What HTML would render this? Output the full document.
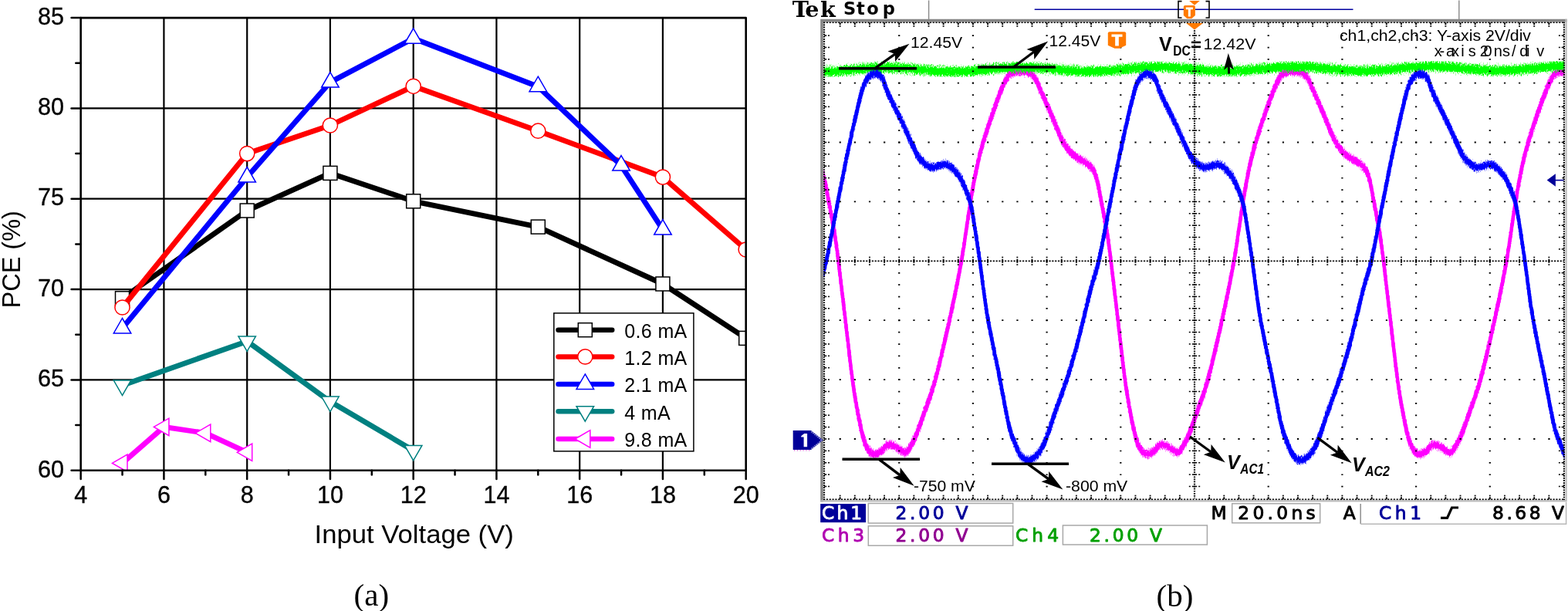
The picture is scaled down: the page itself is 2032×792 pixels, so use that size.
<!DOCTYPE html>
<html><head><meta charset="utf-8"><title>PCE and waveforms</title>
<style>html,body{margin:0;padding:0;background:#fff;}svg{display:block;}</style></head>
<body>
<svg width="2032" height="792" viewBox="0 0 2032 792">
<rect width="2032" height="792" fill="#fff"/>
<g stroke="#000" stroke-width="2.2"><line x1="212.4" y1="23.1" x2="212.4" y2="609.8"/><line x1="320.2" y1="23.1" x2="320.2" y2="609.8"/><line x1="427.9" y1="23.1" x2="427.9" y2="609.8"/><line x1="535.7" y1="23.1" x2="535.7" y2="609.8"/><line x1="643.4" y1="23.1" x2="643.4" y2="609.8"/><line x1="751.2" y1="23.1" x2="751.2" y2="609.8"/><line x1="858.9" y1="23.1" x2="858.9" y2="609.8"/><line x1="104.7" y1="492.4" x2="966.7" y2="492.4"/><line x1="104.7" y1="375.1" x2="966.7" y2="375.1"/><line x1="104.7" y1="257.7" x2="966.7" y2="257.7"/><line x1="104.7" y1="140.4" x2="966.7" y2="140.4"/></g>
<clipPath id="pc"><rect x="104.66" y="23.08" width="862.02" height="586.67"/></clipPath><g clip-path="url(#pc)">
<polyline points="158.5,386.8 320.2,273.0 427.9,224.4 535.7,260.8 697.3,294.1 858.9,368.0 966.7,438.4" fill="none" stroke="#000000" stroke-width="6.9" stroke-linejoin="round" stroke-linecap="round"/>
<rect x="149.5" y="377.8" width="18" height="18" fill="#fff" stroke="#000000" stroke-width="1.5"/>
<rect x="311.2" y="264.0" width="18" height="18" fill="#fff" stroke="#000000" stroke-width="1.5"/>
<rect x="418.9" y="215.4" width="18" height="18" fill="#fff" stroke="#000000" stroke-width="1.5"/>
<rect x="526.7" y="251.8" width="18" height="18" fill="#fff" stroke="#000000" stroke-width="1.5"/>
<rect x="688.3" y="285.1" width="18" height="18" fill="#fff" stroke="#000000" stroke-width="1.5"/>
<rect x="849.9" y="359.0" width="18" height="18" fill="#fff" stroke="#000000" stroke-width="1.5"/>
<rect x="957.7" y="429.4" width="18" height="18" fill="#fff" stroke="#000000" stroke-width="1.5"/>
<polyline points="158.5,398.5 320.2,199.1 427.9,162.5 535.7,111.8 697.3,169.7 858.9,229.6 966.7,323.5" fill="none" stroke="#ff0000" stroke-width="6.9" stroke-linejoin="round" stroke-linecap="round"/>
<circle cx="158.5" cy="398.5" r="9.6" fill="#fff" stroke="#ff0000" stroke-width="1.5"/>
<circle cx="320.2" cy="199.1" r="9.6" fill="#fff" stroke="#ff0000" stroke-width="1.5"/>
<circle cx="427.9" cy="162.5" r="9.6" fill="#fff" stroke="#ff0000" stroke-width="1.5"/>
<circle cx="535.7" cy="111.8" r="9.6" fill="#fff" stroke="#ff0000" stroke-width="1.5"/>
<circle cx="697.3" cy="169.7" r="9.6" fill="#fff" stroke="#ff0000" stroke-width="1.5"/>
<circle cx="858.9" cy="229.6" r="9.6" fill="#fff" stroke="#ff0000" stroke-width="1.5"/>
<circle cx="966.7" cy="323.5" r="9.6" fill="#fff" stroke="#ff0000" stroke-width="1.5"/>
<polyline points="158.5,425.5 320.2,229.6 427.9,106.6 535.7,49.8 697.3,112.2 805.0,214.6 858.9,297.6" fill="none" stroke="#0000ff" stroke-width="6.9" stroke-linejoin="round" stroke-linecap="round"/>
<polygon points="158.5,412.5 169.8,432.0 147.3,432.0" fill="#fff" stroke="#0000ff" stroke-width="1.5" stroke-linejoin="miter"/>
<polygon points="320.2,216.6 331.4,236.1 308.9,236.1" fill="#fff" stroke="#0000ff" stroke-width="1.5" stroke-linejoin="miter"/>
<polygon points="427.9,93.6 439.2,113.1 416.7,113.1" fill="#fff" stroke="#0000ff" stroke-width="1.5" stroke-linejoin="miter"/>
<polygon points="535.7,36.8 546.9,56.3 524.4,56.3" fill="#fff" stroke="#0000ff" stroke-width="1.5" stroke-linejoin="miter"/>
<polygon points="697.3,99.2 708.6,118.7 686.0,118.7" fill="#fff" stroke="#0000ff" stroke-width="1.5" stroke-linejoin="miter"/>
<polygon points="805.0,201.6 816.3,221.1 793.8,221.1" fill="#fff" stroke="#0000ff" stroke-width="1.5" stroke-linejoin="miter"/>
<polygon points="858.9,284.6 870.2,304.1 847.7,304.1" fill="#fff" stroke="#0000ff" stroke-width="1.5" stroke-linejoin="miter"/>
<polyline points="158.5,499.5 320.2,442.4 427.9,520.6 535.7,583.9" fill="none" stroke="#008080" stroke-width="6.9" stroke-linejoin="round" stroke-linecap="round"/>
<polygon points="158.5,512.5 169.8,493.0 147.3,493.0" fill="#fff" stroke="#008080" stroke-width="1.5" stroke-linejoin="miter"/>
<polygon points="320.2,455.4 331.4,435.9 308.9,435.9" fill="#fff" stroke="#008080" stroke-width="1.5" stroke-linejoin="miter"/>
<polygon points="427.9,533.6 439.2,514.1 416.7,514.1" fill="#fff" stroke="#008080" stroke-width="1.5" stroke-linejoin="miter"/>
<polygon points="535.7,596.9 546.9,577.4 524.4,577.4" fill="#fff" stroke="#008080" stroke-width="1.5" stroke-linejoin="miter"/>
<polyline points="158.5,600.4 212.4,553.4 266.3,561.4 320.2,586.3" fill="none" stroke="#ff00ff" stroke-width="6.9" stroke-linejoin="round" stroke-linecap="round"/>
<polygon points="145.5,600.4 165.0,589.1 165.0,611.6" fill="#fff" stroke="#ff00ff" stroke-width="1.5" stroke-linejoin="miter"/>
<polygon points="199.4,553.4 218.9,542.2 218.9,564.7" fill="#fff" stroke="#ff00ff" stroke-width="1.5" stroke-linejoin="miter"/>
<polygon points="253.3,561.4 272.8,550.1 272.8,572.7" fill="#fff" stroke="#ff00ff" stroke-width="1.5" stroke-linejoin="miter"/>
<polygon points="307.2,586.3 326.7,575.0 326.7,597.5" fill="#fff" stroke="#ff00ff" stroke-width="1.5" stroke-linejoin="miter"/>
</g>
<g stroke="#000" stroke-width="2.5" stroke-linecap="round"><line x1="104.66" y1="609.75" x2="104.66" y2="620.95"/><line x1="158.54" y1="609.75" x2="158.54" y2="615.55"/><line x1="212.41" y1="609.75" x2="212.41" y2="620.95"/><line x1="266.29" y1="609.75" x2="266.29" y2="615.55"/><line x1="320.16" y1="609.75" x2="320.16" y2="620.95"/><line x1="374.04" y1="609.75" x2="374.04" y2="615.55"/><line x1="427.92" y1="609.75" x2="427.92" y2="620.95"/><line x1="481.79" y1="609.75" x2="481.79" y2="615.55"/><line x1="535.67" y1="609.75" x2="535.67" y2="620.95"/><line x1="589.54" y1="609.75" x2="589.54" y2="615.55"/><line x1="643.42" y1="609.75" x2="643.42" y2="620.95"/><line x1="697.30" y1="609.75" x2="697.30" y2="615.55"/><line x1="751.17" y1="609.75" x2="751.17" y2="620.95"/><line x1="805.05" y1="609.75" x2="805.05" y2="615.55"/><line x1="858.92" y1="609.75" x2="858.92" y2="620.95"/><line x1="912.80" y1="609.75" x2="912.80" y2="615.55"/><line x1="966.68" y1="609.75" x2="966.68" y2="620.95"/><line x1="92.56" y1="609.75" x2="104.66" y2="609.75"/><line x1="98.26" y1="551.08" x2="104.66" y2="551.08"/><line x1="92.56" y1="492.42" x2="104.66" y2="492.42"/><line x1="98.26" y1="433.75" x2="104.66" y2="433.75"/><line x1="92.56" y1="375.08" x2="104.66" y2="375.08"/><line x1="98.26" y1="316.41" x2="104.66" y2="316.41"/><line x1="92.56" y1="257.75" x2="104.66" y2="257.75"/><line x1="98.26" y1="199.08" x2="104.66" y2="199.08"/><line x1="92.56" y1="140.41" x2="104.66" y2="140.41"/><line x1="98.26" y1="81.74" x2="104.66" y2="81.74"/><line x1="92.56" y1="23.08" x2="104.66" y2="23.08"/></g>
<rect x="104.66" y="23.08" width="862.02" height="586.67" fill="none" stroke="#000" stroke-width="2.6" stroke-linejoin="round"/>
<g font-family="Liberation Sans, Arial, sans-serif" font-size="30.5" fill="#000" stroke="#000" stroke-width="0.35"><text x="83.0" y="618.5" text-anchor="end">60</text><text x="83.0" y="501.1" text-anchor="end">65</text><text x="83.0" y="383.8" text-anchor="end">70</text><text x="83.0" y="266.4" text-anchor="end">75</text><text x="83.0" y="149.1" text-anchor="end">80</text><text x="83.0" y="31.8" text-anchor="end">85</text><text x="104.7" y="652" text-anchor="middle">4</text><text x="212.4" y="652" text-anchor="middle">6</text><text x="320.2" y="652" text-anchor="middle">8</text><text x="427.9" y="652" text-anchor="middle">10</text><text x="535.7" y="652" text-anchor="middle">12</text><text x="643.4" y="652" text-anchor="middle">14</text><text x="751.2" y="652" text-anchor="middle">16</text><text x="858.9" y="652" text-anchor="middle">18</text><text x="966.7" y="652" text-anchor="middle">20</text></g>
<text font-family="Liberation Sans, Arial, sans-serif" font-size="33" x="536.7" y="704.2" text-anchor="middle" textLength="258.2" lengthAdjust="spacingAndGlyphs">Input Voltage (V)</text>
<text font-family="Liberation Sans, Arial, sans-serif" font-size="33" transform="translate(25.7,336.3) rotate(-90)" text-anchor="middle" textLength="126.2" lengthAdjust="spacingAndGlyphs">PCE (%)</text>
<rect x="717.8" y="405.9" width="181.1" height="179" fill="#fff" stroke="#000" stroke-width="1.5"/>
<line x1="723.5" y1="427.7" x2="793.2" y2="427.7" stroke="#000000" stroke-width="6.5" stroke-linecap="round"/>
<rect x="749.3" y="418.7" width="18" height="18" fill="#fff" stroke="#000000" stroke-width="1.5"/>
<text font-family="Liberation Sans, Arial, sans-serif" font-size="25" letter-spacing="0.35" x="809.3" y="438.0" fill="#000">0.6 mA</text>
<line x1="723.5" y1="462.4" x2="793.2" y2="462.4" stroke="#ff0000" stroke-width="6.5" stroke-linecap="round"/>
<circle cx="758.3" cy="462.4" r="9.6" fill="#fff" stroke="#ff0000" stroke-width="1.5"/>
<text font-family="Liberation Sans, Arial, sans-serif" font-size="25" letter-spacing="0.35" x="809.3" y="472.7" fill="#000">1.2 mA</text>
<line x1="723.5" y1="497.9" x2="793.2" y2="497.9" stroke="#0000ff" stroke-width="6.5" stroke-linecap="round"/>
<polygon points="758.3,484.9 769.6,504.4 747.0,504.4" fill="#fff" stroke="#0000ff" stroke-width="1.5" stroke-linejoin="miter"/>
<text font-family="Liberation Sans, Arial, sans-serif" font-size="25" letter-spacing="0.35" x="809.3" y="508.2" fill="#000">2.1 mA</text>
<line x1="723.5" y1="533.2" x2="793.2" y2="533.2" stroke="#008080" stroke-width="6.5" stroke-linecap="round"/>
<polygon points="758.3,546.2 769.6,526.7 747.0,526.7" fill="#fff" stroke="#008080" stroke-width="1.5" stroke-linejoin="miter"/>
<text font-family="Liberation Sans, Arial, sans-serif" font-size="25" letter-spacing="0.35" x="809.3" y="543.5" fill="#000">4 mA</text>
<line x1="723.5" y1="569.0" x2="793.2" y2="569.0" stroke="#ff00ff" stroke-width="6.5" stroke-linecap="round"/>
<polygon points="745.3,569.0 764.8,557.7 764.8,580.3" fill="#fff" stroke="#ff00ff" stroke-width="1.5" stroke-linejoin="miter"/>
<text font-family="Liberation Sans, Arial, sans-serif" font-size="25" letter-spacing="0.35" x="809.3" y="579.3" fill="#000">9.8 mA</text>
<text font-family="Liberation Serif, Times New Roman, serif" font-size="41" x="481.3" y="785.4" text-anchor="middle">(a)</text>
<text font-family="Liberation Serif, Times New Roman, serif" font-size="41" x="1522.5" y="785.9" text-anchor="middle">(b)</text>
<filter id="rough" x="-2%" y="-10%" width="104%" height="120%" color-interpolation-filters="sRGB"><feTurbulence type="fractalNoise" baseFrequency="0.8 0.3" numOctaves="2" seed="7" result="n"/><feColorMatrix in="n" type="matrix" values="0 0 0 0 0.5  1.6 0 0 0 -0.3  0 0 0 0 0  0 0 0 0 1" result="m"/><feDisplacementMap in="SourceGraphic" in2="m" scale="7" xChannelSelector="R" yChannelSelector="G"/></filter>
<filter id="rough2" x="-2%" y="-2%" width="104%" height="104%" color-interpolation-filters="sRGB"><feTurbulence type="fractalNoise" baseFrequency="0.8 0.3" numOctaves="2" seed="11" result="n"/><feColorMatrix in="n" type="matrix" values="0 0 0 0 0.5  1.6 0 0 0 -0.3  0 0 0 0 0  0 0 0 0 1" result="m"/><feDisplacementMap in="SourceGraphic" in2="m" scale="4.5" xChannelSelector="R" yChannelSelector="G"/></filter>
<clipPath id="gc"><rect x="1067.3" y="29" width="960.2" height="618.5"/></clipPath>
<g clip-path="url(#gc)"><g filter="url(#rough2)">
<path d="M1011.1,153.0C1013.1,157.8 1019.4,174.3 1023.1,181.5C1026.8,188.7 1030.1,192.4 1033.1,196.0C1036.1,199.6 1038.3,200.9 1041.1,203.0C1043.9,205.1 1047.3,206.7 1050.1,208.5C1052.9,210.3 1055.8,211.9 1058.1,214.0C1060.4,216.1 1062.3,217.3 1064.1,221.0C1065.9,224.7 1067.4,229.2 1069.1,236.0C1070.8,242.8 1072.0,250.9 1074.1,262.0C1076.2,273.1 1079.5,289.8 1081.6,302.6C1083.7,315.4 1084.3,320.9 1086.6,339.0C1088.8,357.1 1092.1,385.6 1095.1,411.0C1098.1,436.4 1101.7,470.0 1104.6,491.5C1107.5,513.0 1110.0,526.6 1112.6,540.0C1115.2,553.4 1117.8,564.7 1120.1,572.0C1122.3,579.3 1124.1,581.2 1126.1,584.0C1128.1,586.8 1129.8,588.2 1132.3,588.5C1134.8,588.8 1138.2,587.5 1141.3,585.5C1144.4,583.5 1147.5,577.5 1150.8,576.5C1154.1,575.5 1157.6,577.8 1161.3,579.5C1165.0,581.2 1169.6,586.8 1172.8,586.5C1176.0,586.2 1177.9,581.8 1180.3,578.0C1182.7,574.2 1184.2,571.7 1187.3,564.0C1190.4,556.3 1194.6,544.1 1198.8,532.0C1203.0,519.9 1206.9,511.7 1212.3,491.5C1217.7,471.3 1225.7,436.4 1231.3,411.0C1236.9,385.6 1241.4,363.8 1245.8,339.0C1250.2,314.2 1254.2,282.7 1257.6,262.0C1261.0,241.3 1263.4,228.4 1266.3,215.0C1269.2,201.6 1271.8,192.3 1275.0,181.5C1278.2,170.7 1281.8,160.1 1285.3,150.0C1288.8,139.9 1292.8,128.7 1295.8,121.0C1298.8,113.3 1301.0,108.2 1303.3,104.0C1305.5,99.8 1306.1,97.4 1309.3,95.5C1312.5,93.6 1318.0,92.6 1322.3,92.5C1326.6,92.4 1332.0,93.2 1335.3,95.0C1338.6,96.8 1339.8,98.7 1342.3,103.0C1344.8,107.3 1346.6,112.7 1350.3,121.0C1354.0,129.3 1360.0,142.9 1364.3,153.0C1368.6,163.1 1372.6,174.3 1376.3,181.5C1380.0,188.7 1383.3,192.4 1386.3,196.0C1389.3,199.6 1391.5,200.9 1394.3,203.0C1397.1,205.1 1400.5,206.7 1403.3,208.5C1406.1,210.3 1409.0,211.9 1411.3,214.0C1413.6,216.1 1415.5,217.3 1417.3,221.0C1419.1,224.7 1420.6,229.2 1422.3,236.0C1424.0,242.8 1425.2,250.9 1427.3,262.0C1429.4,273.1 1432.7,289.8 1434.8,302.6C1436.9,315.4 1437.5,320.9 1439.8,339.0C1442.0,357.1 1445.3,385.6 1448.3,411.0C1451.3,436.4 1454.9,470.0 1457.8,491.5C1460.7,513.0 1463.2,526.6 1465.8,540.0C1468.4,553.4 1471.0,564.7 1473.3,572.0C1475.5,579.3 1477.3,581.2 1479.3,584.0C1481.3,586.8 1483.0,588.2 1485.5,588.5C1488.0,588.8 1491.4,587.5 1494.5,585.5C1497.6,583.5 1500.7,577.5 1504.0,576.5C1507.3,575.5 1510.8,577.8 1514.5,579.5C1518.2,581.2 1522.8,586.8 1526.0,586.5C1529.2,586.2 1531.1,581.8 1533.5,578.0C1535.9,574.2 1537.4,571.7 1540.5,564.0C1543.6,556.3 1547.8,544.1 1552.0,532.0C1556.2,519.9 1560.1,511.7 1565.5,491.5C1570.9,471.3 1578.9,436.4 1584.5,411.0C1590.1,385.6 1594.6,363.8 1599.0,339.0C1603.4,314.2 1607.4,282.7 1610.8,262.0C1614.2,241.3 1616.6,228.4 1619.5,215.0C1622.4,201.6 1625.0,192.3 1628.2,181.5C1631.4,170.7 1635.0,160.1 1638.5,150.0C1642.0,139.9 1646.0,128.7 1649.0,121.0C1652.0,113.3 1654.2,108.2 1656.5,104.0C1658.8,99.8 1659.3,97.4 1662.5,95.5C1665.7,93.6 1671.2,92.6 1675.5,92.5C1679.8,92.4 1685.2,93.2 1688.5,95.0C1691.8,96.8 1693.0,98.7 1695.5,103.0C1698.0,107.3 1699.8,112.7 1703.5,121.0C1707.2,129.3 1713.2,142.9 1717.5,153.0C1721.8,163.1 1725.8,174.3 1729.5,181.5C1733.2,188.7 1736.5,192.4 1739.5,196.0C1742.5,199.6 1744.7,200.9 1747.5,203.0C1750.3,205.1 1753.7,206.7 1756.5,208.5C1759.3,210.3 1762.2,211.9 1764.5,214.0C1766.8,216.1 1768.7,217.3 1770.5,221.0C1772.3,224.7 1773.8,229.2 1775.5,236.0C1777.2,242.8 1778.4,250.9 1780.5,262.0C1782.6,273.1 1785.9,289.8 1788.0,302.6C1790.1,315.4 1790.8,320.9 1793.0,339.0C1795.2,357.1 1798.5,385.6 1801.5,411.0C1804.5,436.4 1808.1,470.0 1811.0,491.5C1813.9,513.0 1816.4,526.6 1819.0,540.0C1821.6,553.4 1824.2,564.7 1826.5,572.0C1828.8,579.3 1830.5,581.2 1832.5,584.0C1834.5,586.8 1836.2,588.2 1838.7,588.5C1841.2,588.8 1844.6,587.5 1847.7,585.5C1850.8,583.5 1853.9,577.5 1857.2,576.5C1860.5,575.5 1864.0,577.8 1867.7,579.5C1871.4,581.2 1876.0,586.8 1879.2,586.5C1882.4,586.2 1884.3,581.8 1886.7,578.0C1889.1,574.2 1890.6,571.7 1893.7,564.0C1896.8,556.3 1901.0,544.1 1905.2,532.0C1909.4,519.9 1913.3,511.7 1918.7,491.5C1924.1,471.3 1932.1,436.4 1937.7,411.0C1943.3,385.6 1947.8,363.8 1952.2,339.0C1956.6,314.2 1960.6,282.7 1964.0,262.0C1967.4,241.3 1969.8,228.4 1972.7,215.0C1975.6,201.6 1978.2,192.3 1981.4,181.5C1984.6,170.7 1988.2,160.1 1991.7,150.0C1995.2,139.9 1999.2,128.7 2002.2,121.0C2005.2,113.3 2007.4,108.2 2009.7,104.0C2011.9,99.8 2012.5,97.4 2015.7,95.5C2018.9,93.6 2024.4,92.6 2028.7,92.5C2033.0,92.4 2038.4,93.2 2041.7,95.0C2045.0,96.8 2046.2,98.7 2048.7,103.0C2051.2,107.3 2053.0,112.7 2056.7,121.0C2060.4,129.3 2066.4,142.9 2070.7,153.0C2075.0,163.1 2080.7,176.8 2082.7,181.5" transform="translate(0,-4.0)" fill="none" stroke="#ff00ff" stroke-width="3.8" stroke-opacity="0.4" stroke-linejoin="round"/><path d="M1011.1,153.0C1013.1,157.8 1019.4,174.3 1023.1,181.5C1026.8,188.7 1030.1,192.4 1033.1,196.0C1036.1,199.6 1038.3,200.9 1041.1,203.0C1043.9,205.1 1047.3,206.7 1050.1,208.5C1052.9,210.3 1055.8,211.9 1058.1,214.0C1060.4,216.1 1062.3,217.3 1064.1,221.0C1065.9,224.7 1067.4,229.2 1069.1,236.0C1070.8,242.8 1072.0,250.9 1074.1,262.0C1076.2,273.1 1079.5,289.8 1081.6,302.6C1083.7,315.4 1084.3,320.9 1086.6,339.0C1088.8,357.1 1092.1,385.6 1095.1,411.0C1098.1,436.4 1101.7,470.0 1104.6,491.5C1107.5,513.0 1110.0,526.6 1112.6,540.0C1115.2,553.4 1117.8,564.7 1120.1,572.0C1122.3,579.3 1124.1,581.2 1126.1,584.0C1128.1,586.8 1129.8,588.2 1132.3,588.5C1134.8,588.8 1138.2,587.5 1141.3,585.5C1144.4,583.5 1147.5,577.5 1150.8,576.5C1154.1,575.5 1157.6,577.8 1161.3,579.5C1165.0,581.2 1169.6,586.8 1172.8,586.5C1176.0,586.2 1177.9,581.8 1180.3,578.0C1182.7,574.2 1184.2,571.7 1187.3,564.0C1190.4,556.3 1194.6,544.1 1198.8,532.0C1203.0,519.9 1206.9,511.7 1212.3,491.5C1217.7,471.3 1225.7,436.4 1231.3,411.0C1236.9,385.6 1241.4,363.8 1245.8,339.0C1250.2,314.2 1254.2,282.7 1257.6,262.0C1261.0,241.3 1263.4,228.4 1266.3,215.0C1269.2,201.6 1271.8,192.3 1275.0,181.5C1278.2,170.7 1281.8,160.1 1285.3,150.0C1288.8,139.9 1292.8,128.7 1295.8,121.0C1298.8,113.3 1301.0,108.2 1303.3,104.0C1305.5,99.8 1306.1,97.4 1309.3,95.5C1312.5,93.6 1318.0,92.6 1322.3,92.5C1326.6,92.4 1332.0,93.2 1335.3,95.0C1338.6,96.8 1339.8,98.7 1342.3,103.0C1344.8,107.3 1346.6,112.7 1350.3,121.0C1354.0,129.3 1360.0,142.9 1364.3,153.0C1368.6,163.1 1372.6,174.3 1376.3,181.5C1380.0,188.7 1383.3,192.4 1386.3,196.0C1389.3,199.6 1391.5,200.9 1394.3,203.0C1397.1,205.1 1400.5,206.7 1403.3,208.5C1406.1,210.3 1409.0,211.9 1411.3,214.0C1413.6,216.1 1415.5,217.3 1417.3,221.0C1419.1,224.7 1420.6,229.2 1422.3,236.0C1424.0,242.8 1425.2,250.9 1427.3,262.0C1429.4,273.1 1432.7,289.8 1434.8,302.6C1436.9,315.4 1437.5,320.9 1439.8,339.0C1442.0,357.1 1445.3,385.6 1448.3,411.0C1451.3,436.4 1454.9,470.0 1457.8,491.5C1460.7,513.0 1463.2,526.6 1465.8,540.0C1468.4,553.4 1471.0,564.7 1473.3,572.0C1475.5,579.3 1477.3,581.2 1479.3,584.0C1481.3,586.8 1483.0,588.2 1485.5,588.5C1488.0,588.8 1491.4,587.5 1494.5,585.5C1497.6,583.5 1500.7,577.5 1504.0,576.5C1507.3,575.5 1510.8,577.8 1514.5,579.5C1518.2,581.2 1522.8,586.8 1526.0,586.5C1529.2,586.2 1531.1,581.8 1533.5,578.0C1535.9,574.2 1537.4,571.7 1540.5,564.0C1543.6,556.3 1547.8,544.1 1552.0,532.0C1556.2,519.9 1560.1,511.7 1565.5,491.5C1570.9,471.3 1578.9,436.4 1584.5,411.0C1590.1,385.6 1594.6,363.8 1599.0,339.0C1603.4,314.2 1607.4,282.7 1610.8,262.0C1614.2,241.3 1616.6,228.4 1619.5,215.0C1622.4,201.6 1625.0,192.3 1628.2,181.5C1631.4,170.7 1635.0,160.1 1638.5,150.0C1642.0,139.9 1646.0,128.7 1649.0,121.0C1652.0,113.3 1654.2,108.2 1656.5,104.0C1658.8,99.8 1659.3,97.4 1662.5,95.5C1665.7,93.6 1671.2,92.6 1675.5,92.5C1679.8,92.4 1685.2,93.2 1688.5,95.0C1691.8,96.8 1693.0,98.7 1695.5,103.0C1698.0,107.3 1699.8,112.7 1703.5,121.0C1707.2,129.3 1713.2,142.9 1717.5,153.0C1721.8,163.1 1725.8,174.3 1729.5,181.5C1733.2,188.7 1736.5,192.4 1739.5,196.0C1742.5,199.6 1744.7,200.9 1747.5,203.0C1750.3,205.1 1753.7,206.7 1756.5,208.5C1759.3,210.3 1762.2,211.9 1764.5,214.0C1766.8,216.1 1768.7,217.3 1770.5,221.0C1772.3,224.7 1773.8,229.2 1775.5,236.0C1777.2,242.8 1778.4,250.9 1780.5,262.0C1782.6,273.1 1785.9,289.8 1788.0,302.6C1790.1,315.4 1790.8,320.9 1793.0,339.0C1795.2,357.1 1798.5,385.6 1801.5,411.0C1804.5,436.4 1808.1,470.0 1811.0,491.5C1813.9,513.0 1816.4,526.6 1819.0,540.0C1821.6,553.4 1824.2,564.7 1826.5,572.0C1828.8,579.3 1830.5,581.2 1832.5,584.0C1834.5,586.8 1836.2,588.2 1838.7,588.5C1841.2,588.8 1844.6,587.5 1847.7,585.5C1850.8,583.5 1853.9,577.5 1857.2,576.5C1860.5,575.5 1864.0,577.8 1867.7,579.5C1871.4,581.2 1876.0,586.8 1879.2,586.5C1882.4,586.2 1884.3,581.8 1886.7,578.0C1889.1,574.2 1890.6,571.7 1893.7,564.0C1896.8,556.3 1901.0,544.1 1905.2,532.0C1909.4,519.9 1913.3,511.7 1918.7,491.5C1924.1,471.3 1932.1,436.4 1937.7,411.0C1943.3,385.6 1947.8,363.8 1952.2,339.0C1956.6,314.2 1960.6,282.7 1964.0,262.0C1967.4,241.3 1969.8,228.4 1972.7,215.0C1975.6,201.6 1978.2,192.3 1981.4,181.5C1984.6,170.7 1988.2,160.1 1991.7,150.0C1995.2,139.9 1999.2,128.7 2002.2,121.0C2005.2,113.3 2007.4,108.2 2009.7,104.0C2011.9,99.8 2012.5,97.4 2015.7,95.5C2018.9,93.6 2024.4,92.6 2028.7,92.5C2033.0,92.4 2038.4,93.2 2041.7,95.0C2045.0,96.8 2046.2,98.7 2048.7,103.0C2051.2,107.3 2053.0,112.7 2056.7,121.0C2060.4,129.3 2066.4,142.9 2070.7,153.0C2075.0,163.1 2080.7,176.8 2082.7,181.5" transform="translate(0,-2.3)" fill="none" stroke="#ff00ff" stroke-width="3.8" stroke-opacity="1.0" stroke-linejoin="round"/><path d="M1011.1,153.0C1013.1,157.8 1019.4,174.3 1023.1,181.5C1026.8,188.7 1030.1,192.4 1033.1,196.0C1036.1,199.6 1038.3,200.9 1041.1,203.0C1043.9,205.1 1047.3,206.7 1050.1,208.5C1052.9,210.3 1055.8,211.9 1058.1,214.0C1060.4,216.1 1062.3,217.3 1064.1,221.0C1065.9,224.7 1067.4,229.2 1069.1,236.0C1070.8,242.8 1072.0,250.9 1074.1,262.0C1076.2,273.1 1079.5,289.8 1081.6,302.6C1083.7,315.4 1084.3,320.9 1086.6,339.0C1088.8,357.1 1092.1,385.6 1095.1,411.0C1098.1,436.4 1101.7,470.0 1104.6,491.5C1107.5,513.0 1110.0,526.6 1112.6,540.0C1115.2,553.4 1117.8,564.7 1120.1,572.0C1122.3,579.3 1124.1,581.2 1126.1,584.0C1128.1,586.8 1129.8,588.2 1132.3,588.5C1134.8,588.8 1138.2,587.5 1141.3,585.5C1144.4,583.5 1147.5,577.5 1150.8,576.5C1154.1,575.5 1157.6,577.8 1161.3,579.5C1165.0,581.2 1169.6,586.8 1172.8,586.5C1176.0,586.2 1177.9,581.8 1180.3,578.0C1182.7,574.2 1184.2,571.7 1187.3,564.0C1190.4,556.3 1194.6,544.1 1198.8,532.0C1203.0,519.9 1206.9,511.7 1212.3,491.5C1217.7,471.3 1225.7,436.4 1231.3,411.0C1236.9,385.6 1241.4,363.8 1245.8,339.0C1250.2,314.2 1254.2,282.7 1257.6,262.0C1261.0,241.3 1263.4,228.4 1266.3,215.0C1269.2,201.6 1271.8,192.3 1275.0,181.5C1278.2,170.7 1281.8,160.1 1285.3,150.0C1288.8,139.9 1292.8,128.7 1295.8,121.0C1298.8,113.3 1301.0,108.2 1303.3,104.0C1305.5,99.8 1306.1,97.4 1309.3,95.5C1312.5,93.6 1318.0,92.6 1322.3,92.5C1326.6,92.4 1332.0,93.2 1335.3,95.0C1338.6,96.8 1339.8,98.7 1342.3,103.0C1344.8,107.3 1346.6,112.7 1350.3,121.0C1354.0,129.3 1360.0,142.9 1364.3,153.0C1368.6,163.1 1372.6,174.3 1376.3,181.5C1380.0,188.7 1383.3,192.4 1386.3,196.0C1389.3,199.6 1391.5,200.9 1394.3,203.0C1397.1,205.1 1400.5,206.7 1403.3,208.5C1406.1,210.3 1409.0,211.9 1411.3,214.0C1413.6,216.1 1415.5,217.3 1417.3,221.0C1419.1,224.7 1420.6,229.2 1422.3,236.0C1424.0,242.8 1425.2,250.9 1427.3,262.0C1429.4,273.1 1432.7,289.8 1434.8,302.6C1436.9,315.4 1437.5,320.9 1439.8,339.0C1442.0,357.1 1445.3,385.6 1448.3,411.0C1451.3,436.4 1454.9,470.0 1457.8,491.5C1460.7,513.0 1463.2,526.6 1465.8,540.0C1468.4,553.4 1471.0,564.7 1473.3,572.0C1475.5,579.3 1477.3,581.2 1479.3,584.0C1481.3,586.8 1483.0,588.2 1485.5,588.5C1488.0,588.8 1491.4,587.5 1494.5,585.5C1497.6,583.5 1500.7,577.5 1504.0,576.5C1507.3,575.5 1510.8,577.8 1514.5,579.5C1518.2,581.2 1522.8,586.8 1526.0,586.5C1529.2,586.2 1531.1,581.8 1533.5,578.0C1535.9,574.2 1537.4,571.7 1540.5,564.0C1543.6,556.3 1547.8,544.1 1552.0,532.0C1556.2,519.9 1560.1,511.7 1565.5,491.5C1570.9,471.3 1578.9,436.4 1584.5,411.0C1590.1,385.6 1594.6,363.8 1599.0,339.0C1603.4,314.2 1607.4,282.7 1610.8,262.0C1614.2,241.3 1616.6,228.4 1619.5,215.0C1622.4,201.6 1625.0,192.3 1628.2,181.5C1631.4,170.7 1635.0,160.1 1638.5,150.0C1642.0,139.9 1646.0,128.7 1649.0,121.0C1652.0,113.3 1654.2,108.2 1656.5,104.0C1658.8,99.8 1659.3,97.4 1662.5,95.5C1665.7,93.6 1671.2,92.6 1675.5,92.5C1679.8,92.4 1685.2,93.2 1688.5,95.0C1691.8,96.8 1693.0,98.7 1695.5,103.0C1698.0,107.3 1699.8,112.7 1703.5,121.0C1707.2,129.3 1713.2,142.9 1717.5,153.0C1721.8,163.1 1725.8,174.3 1729.5,181.5C1733.2,188.7 1736.5,192.4 1739.5,196.0C1742.5,199.6 1744.7,200.9 1747.5,203.0C1750.3,205.1 1753.7,206.7 1756.5,208.5C1759.3,210.3 1762.2,211.9 1764.5,214.0C1766.8,216.1 1768.7,217.3 1770.5,221.0C1772.3,224.7 1773.8,229.2 1775.5,236.0C1777.2,242.8 1778.4,250.9 1780.5,262.0C1782.6,273.1 1785.9,289.8 1788.0,302.6C1790.1,315.4 1790.8,320.9 1793.0,339.0C1795.2,357.1 1798.5,385.6 1801.5,411.0C1804.5,436.4 1808.1,470.0 1811.0,491.5C1813.9,513.0 1816.4,526.6 1819.0,540.0C1821.6,553.4 1824.2,564.7 1826.5,572.0C1828.8,579.3 1830.5,581.2 1832.5,584.0C1834.5,586.8 1836.2,588.2 1838.7,588.5C1841.2,588.8 1844.6,587.5 1847.7,585.5C1850.8,583.5 1853.9,577.5 1857.2,576.5C1860.5,575.5 1864.0,577.8 1867.7,579.5C1871.4,581.2 1876.0,586.8 1879.2,586.5C1882.4,586.2 1884.3,581.8 1886.7,578.0C1889.1,574.2 1890.6,571.7 1893.7,564.0C1896.8,556.3 1901.0,544.1 1905.2,532.0C1909.4,519.9 1913.3,511.7 1918.7,491.5C1924.1,471.3 1932.1,436.4 1937.7,411.0C1943.3,385.6 1947.8,363.8 1952.2,339.0C1956.6,314.2 1960.6,282.7 1964.0,262.0C1967.4,241.3 1969.8,228.4 1972.7,215.0C1975.6,201.6 1978.2,192.3 1981.4,181.5C1984.6,170.7 1988.2,160.1 1991.7,150.0C1995.2,139.9 1999.2,128.7 2002.2,121.0C2005.2,113.3 2007.4,108.2 2009.7,104.0C2011.9,99.8 2012.5,97.4 2015.7,95.5C2018.9,93.6 2024.4,92.6 2028.7,92.5C2033.0,92.4 2038.4,93.2 2041.7,95.0C2045.0,96.8 2046.2,98.7 2048.7,103.0C2051.2,107.3 2053.0,112.7 2056.7,121.0C2060.4,129.3 2066.4,142.9 2070.7,153.0C2075.0,163.1 2080.7,176.8 2082.7,181.5" transform="translate(0,0)" fill="none" stroke="#ff00ff" stroke-width="3.8" stroke-opacity="1.0" stroke-linejoin="round"/><path d="M1011.1,153.0C1013.1,157.8 1019.4,174.3 1023.1,181.5C1026.8,188.7 1030.1,192.4 1033.1,196.0C1036.1,199.6 1038.3,200.9 1041.1,203.0C1043.9,205.1 1047.3,206.7 1050.1,208.5C1052.9,210.3 1055.8,211.9 1058.1,214.0C1060.4,216.1 1062.3,217.3 1064.1,221.0C1065.9,224.7 1067.4,229.2 1069.1,236.0C1070.8,242.8 1072.0,250.9 1074.1,262.0C1076.2,273.1 1079.5,289.8 1081.6,302.6C1083.7,315.4 1084.3,320.9 1086.6,339.0C1088.8,357.1 1092.1,385.6 1095.1,411.0C1098.1,436.4 1101.7,470.0 1104.6,491.5C1107.5,513.0 1110.0,526.6 1112.6,540.0C1115.2,553.4 1117.8,564.7 1120.1,572.0C1122.3,579.3 1124.1,581.2 1126.1,584.0C1128.1,586.8 1129.8,588.2 1132.3,588.5C1134.8,588.8 1138.2,587.5 1141.3,585.5C1144.4,583.5 1147.5,577.5 1150.8,576.5C1154.1,575.5 1157.6,577.8 1161.3,579.5C1165.0,581.2 1169.6,586.8 1172.8,586.5C1176.0,586.2 1177.9,581.8 1180.3,578.0C1182.7,574.2 1184.2,571.7 1187.3,564.0C1190.4,556.3 1194.6,544.1 1198.8,532.0C1203.0,519.9 1206.9,511.7 1212.3,491.5C1217.7,471.3 1225.7,436.4 1231.3,411.0C1236.9,385.6 1241.4,363.8 1245.8,339.0C1250.2,314.2 1254.2,282.7 1257.6,262.0C1261.0,241.3 1263.4,228.4 1266.3,215.0C1269.2,201.6 1271.8,192.3 1275.0,181.5C1278.2,170.7 1281.8,160.1 1285.3,150.0C1288.8,139.9 1292.8,128.7 1295.8,121.0C1298.8,113.3 1301.0,108.2 1303.3,104.0C1305.5,99.8 1306.1,97.4 1309.3,95.5C1312.5,93.6 1318.0,92.6 1322.3,92.5C1326.6,92.4 1332.0,93.2 1335.3,95.0C1338.6,96.8 1339.8,98.7 1342.3,103.0C1344.8,107.3 1346.6,112.7 1350.3,121.0C1354.0,129.3 1360.0,142.9 1364.3,153.0C1368.6,163.1 1372.6,174.3 1376.3,181.5C1380.0,188.7 1383.3,192.4 1386.3,196.0C1389.3,199.6 1391.5,200.9 1394.3,203.0C1397.1,205.1 1400.5,206.7 1403.3,208.5C1406.1,210.3 1409.0,211.9 1411.3,214.0C1413.6,216.1 1415.5,217.3 1417.3,221.0C1419.1,224.7 1420.6,229.2 1422.3,236.0C1424.0,242.8 1425.2,250.9 1427.3,262.0C1429.4,273.1 1432.7,289.8 1434.8,302.6C1436.9,315.4 1437.5,320.9 1439.8,339.0C1442.0,357.1 1445.3,385.6 1448.3,411.0C1451.3,436.4 1454.9,470.0 1457.8,491.5C1460.7,513.0 1463.2,526.6 1465.8,540.0C1468.4,553.4 1471.0,564.7 1473.3,572.0C1475.5,579.3 1477.3,581.2 1479.3,584.0C1481.3,586.8 1483.0,588.2 1485.5,588.5C1488.0,588.8 1491.4,587.5 1494.5,585.5C1497.6,583.5 1500.7,577.5 1504.0,576.5C1507.3,575.5 1510.8,577.8 1514.5,579.5C1518.2,581.2 1522.8,586.8 1526.0,586.5C1529.2,586.2 1531.1,581.8 1533.5,578.0C1535.9,574.2 1537.4,571.7 1540.5,564.0C1543.6,556.3 1547.8,544.1 1552.0,532.0C1556.2,519.9 1560.1,511.7 1565.5,491.5C1570.9,471.3 1578.9,436.4 1584.5,411.0C1590.1,385.6 1594.6,363.8 1599.0,339.0C1603.4,314.2 1607.4,282.7 1610.8,262.0C1614.2,241.3 1616.6,228.4 1619.5,215.0C1622.4,201.6 1625.0,192.3 1628.2,181.5C1631.4,170.7 1635.0,160.1 1638.5,150.0C1642.0,139.9 1646.0,128.7 1649.0,121.0C1652.0,113.3 1654.2,108.2 1656.5,104.0C1658.8,99.8 1659.3,97.4 1662.5,95.5C1665.7,93.6 1671.2,92.6 1675.5,92.5C1679.8,92.4 1685.2,93.2 1688.5,95.0C1691.8,96.8 1693.0,98.7 1695.5,103.0C1698.0,107.3 1699.8,112.7 1703.5,121.0C1707.2,129.3 1713.2,142.9 1717.5,153.0C1721.8,163.1 1725.8,174.3 1729.5,181.5C1733.2,188.7 1736.5,192.4 1739.5,196.0C1742.5,199.6 1744.7,200.9 1747.5,203.0C1750.3,205.1 1753.7,206.7 1756.5,208.5C1759.3,210.3 1762.2,211.9 1764.5,214.0C1766.8,216.1 1768.7,217.3 1770.5,221.0C1772.3,224.7 1773.8,229.2 1775.5,236.0C1777.2,242.8 1778.4,250.9 1780.5,262.0C1782.6,273.1 1785.9,289.8 1788.0,302.6C1790.1,315.4 1790.8,320.9 1793.0,339.0C1795.2,357.1 1798.5,385.6 1801.5,411.0C1804.5,436.4 1808.1,470.0 1811.0,491.5C1813.9,513.0 1816.4,526.6 1819.0,540.0C1821.6,553.4 1824.2,564.7 1826.5,572.0C1828.8,579.3 1830.5,581.2 1832.5,584.0C1834.5,586.8 1836.2,588.2 1838.7,588.5C1841.2,588.8 1844.6,587.5 1847.7,585.5C1850.8,583.5 1853.9,577.5 1857.2,576.5C1860.5,575.5 1864.0,577.8 1867.7,579.5C1871.4,581.2 1876.0,586.8 1879.2,586.5C1882.4,586.2 1884.3,581.8 1886.7,578.0C1889.1,574.2 1890.6,571.7 1893.7,564.0C1896.8,556.3 1901.0,544.1 1905.2,532.0C1909.4,519.9 1913.3,511.7 1918.7,491.5C1924.1,471.3 1932.1,436.4 1937.7,411.0C1943.3,385.6 1947.8,363.8 1952.2,339.0C1956.6,314.2 1960.6,282.7 1964.0,262.0C1967.4,241.3 1969.8,228.4 1972.7,215.0C1975.6,201.6 1978.2,192.3 1981.4,181.5C1984.6,170.7 1988.2,160.1 1991.7,150.0C1995.2,139.9 1999.2,128.7 2002.2,121.0C2005.2,113.3 2007.4,108.2 2009.7,104.0C2011.9,99.8 2012.5,97.4 2015.7,95.5C2018.9,93.6 2024.4,92.6 2028.7,92.5C2033.0,92.4 2038.4,93.2 2041.7,95.0C2045.0,96.8 2046.2,98.7 2048.7,103.0C2051.2,107.3 2053.0,112.7 2056.7,121.0C2060.4,129.3 2066.4,142.9 2070.7,153.0C2075.0,163.1 2080.7,176.8 2082.7,181.5" transform="translate(0,2.3)" fill="none" stroke="#ff00ff" stroke-width="3.8" stroke-opacity="1.0" stroke-linejoin="round"/><path d="M1011.1,153.0C1013.1,157.8 1019.4,174.3 1023.1,181.5C1026.8,188.7 1030.1,192.4 1033.1,196.0C1036.1,199.6 1038.3,200.9 1041.1,203.0C1043.9,205.1 1047.3,206.7 1050.1,208.5C1052.9,210.3 1055.8,211.9 1058.1,214.0C1060.4,216.1 1062.3,217.3 1064.1,221.0C1065.9,224.7 1067.4,229.2 1069.1,236.0C1070.8,242.8 1072.0,250.9 1074.1,262.0C1076.2,273.1 1079.5,289.8 1081.6,302.6C1083.7,315.4 1084.3,320.9 1086.6,339.0C1088.8,357.1 1092.1,385.6 1095.1,411.0C1098.1,436.4 1101.7,470.0 1104.6,491.5C1107.5,513.0 1110.0,526.6 1112.6,540.0C1115.2,553.4 1117.8,564.7 1120.1,572.0C1122.3,579.3 1124.1,581.2 1126.1,584.0C1128.1,586.8 1129.8,588.2 1132.3,588.5C1134.8,588.8 1138.2,587.5 1141.3,585.5C1144.4,583.5 1147.5,577.5 1150.8,576.5C1154.1,575.5 1157.6,577.8 1161.3,579.5C1165.0,581.2 1169.6,586.8 1172.8,586.5C1176.0,586.2 1177.9,581.8 1180.3,578.0C1182.7,574.2 1184.2,571.7 1187.3,564.0C1190.4,556.3 1194.6,544.1 1198.8,532.0C1203.0,519.9 1206.9,511.7 1212.3,491.5C1217.7,471.3 1225.7,436.4 1231.3,411.0C1236.9,385.6 1241.4,363.8 1245.8,339.0C1250.2,314.2 1254.2,282.7 1257.6,262.0C1261.0,241.3 1263.4,228.4 1266.3,215.0C1269.2,201.6 1271.8,192.3 1275.0,181.5C1278.2,170.7 1281.8,160.1 1285.3,150.0C1288.8,139.9 1292.8,128.7 1295.8,121.0C1298.8,113.3 1301.0,108.2 1303.3,104.0C1305.5,99.8 1306.1,97.4 1309.3,95.5C1312.5,93.6 1318.0,92.6 1322.3,92.5C1326.6,92.4 1332.0,93.2 1335.3,95.0C1338.6,96.8 1339.8,98.7 1342.3,103.0C1344.8,107.3 1346.6,112.7 1350.3,121.0C1354.0,129.3 1360.0,142.9 1364.3,153.0C1368.6,163.1 1372.6,174.3 1376.3,181.5C1380.0,188.7 1383.3,192.4 1386.3,196.0C1389.3,199.6 1391.5,200.9 1394.3,203.0C1397.1,205.1 1400.5,206.7 1403.3,208.5C1406.1,210.3 1409.0,211.9 1411.3,214.0C1413.6,216.1 1415.5,217.3 1417.3,221.0C1419.1,224.7 1420.6,229.2 1422.3,236.0C1424.0,242.8 1425.2,250.9 1427.3,262.0C1429.4,273.1 1432.7,289.8 1434.8,302.6C1436.9,315.4 1437.5,320.9 1439.8,339.0C1442.0,357.1 1445.3,385.6 1448.3,411.0C1451.3,436.4 1454.9,470.0 1457.8,491.5C1460.7,513.0 1463.2,526.6 1465.8,540.0C1468.4,553.4 1471.0,564.7 1473.3,572.0C1475.5,579.3 1477.3,581.2 1479.3,584.0C1481.3,586.8 1483.0,588.2 1485.5,588.5C1488.0,588.8 1491.4,587.5 1494.5,585.5C1497.6,583.5 1500.7,577.5 1504.0,576.5C1507.3,575.5 1510.8,577.8 1514.5,579.5C1518.2,581.2 1522.8,586.8 1526.0,586.5C1529.2,586.2 1531.1,581.8 1533.5,578.0C1535.9,574.2 1537.4,571.7 1540.5,564.0C1543.6,556.3 1547.8,544.1 1552.0,532.0C1556.2,519.9 1560.1,511.7 1565.5,491.5C1570.9,471.3 1578.9,436.4 1584.5,411.0C1590.1,385.6 1594.6,363.8 1599.0,339.0C1603.4,314.2 1607.4,282.7 1610.8,262.0C1614.2,241.3 1616.6,228.4 1619.5,215.0C1622.4,201.6 1625.0,192.3 1628.2,181.5C1631.4,170.7 1635.0,160.1 1638.5,150.0C1642.0,139.9 1646.0,128.7 1649.0,121.0C1652.0,113.3 1654.2,108.2 1656.5,104.0C1658.8,99.8 1659.3,97.4 1662.5,95.5C1665.7,93.6 1671.2,92.6 1675.5,92.5C1679.8,92.4 1685.2,93.2 1688.5,95.0C1691.8,96.8 1693.0,98.7 1695.5,103.0C1698.0,107.3 1699.8,112.7 1703.5,121.0C1707.2,129.3 1713.2,142.9 1717.5,153.0C1721.8,163.1 1725.8,174.3 1729.5,181.5C1733.2,188.7 1736.5,192.4 1739.5,196.0C1742.5,199.6 1744.7,200.9 1747.5,203.0C1750.3,205.1 1753.7,206.7 1756.5,208.5C1759.3,210.3 1762.2,211.9 1764.5,214.0C1766.8,216.1 1768.7,217.3 1770.5,221.0C1772.3,224.7 1773.8,229.2 1775.5,236.0C1777.2,242.8 1778.4,250.9 1780.5,262.0C1782.6,273.1 1785.9,289.8 1788.0,302.6C1790.1,315.4 1790.8,320.9 1793.0,339.0C1795.2,357.1 1798.5,385.6 1801.5,411.0C1804.5,436.4 1808.1,470.0 1811.0,491.5C1813.9,513.0 1816.4,526.6 1819.0,540.0C1821.6,553.4 1824.2,564.7 1826.5,572.0C1828.8,579.3 1830.5,581.2 1832.5,584.0C1834.5,586.8 1836.2,588.2 1838.7,588.5C1841.2,588.8 1844.6,587.5 1847.7,585.5C1850.8,583.5 1853.9,577.5 1857.2,576.5C1860.5,575.5 1864.0,577.8 1867.7,579.5C1871.4,581.2 1876.0,586.8 1879.2,586.5C1882.4,586.2 1884.3,581.8 1886.7,578.0C1889.1,574.2 1890.6,571.7 1893.7,564.0C1896.8,556.3 1901.0,544.1 1905.2,532.0C1909.4,519.9 1913.3,511.7 1918.7,491.5C1924.1,471.3 1932.1,436.4 1937.7,411.0C1943.3,385.6 1947.8,363.8 1952.2,339.0C1956.6,314.2 1960.6,282.7 1964.0,262.0C1967.4,241.3 1969.8,228.4 1972.7,215.0C1975.6,201.6 1978.2,192.3 1981.4,181.5C1984.6,170.7 1988.2,160.1 1991.7,150.0C1995.2,139.9 1999.2,128.7 2002.2,121.0C2005.2,113.3 2007.4,108.2 2009.7,104.0C2011.9,99.8 2012.5,97.4 2015.7,95.5C2018.9,93.6 2024.4,92.6 2028.7,92.5C2033.0,92.4 2038.4,93.2 2041.7,95.0C2045.0,96.8 2046.2,98.7 2048.7,103.0C2051.2,107.3 2053.0,112.7 2056.7,121.0C2060.4,129.3 2066.4,142.9 2070.7,153.0C2075.0,163.1 2080.7,176.8 2082.7,181.5" transform="translate(0,4.0)" fill="none" stroke="#ff00ff" stroke-width="3.8" stroke-opacity="0.4" stroke-linejoin="round"/>
</g><g filter="url(#rough)">
<path d="M1059.5,93.4C1060.8,93.3 1064.8,93.3 1067.5,93.2C1070.2,93.2 1072.8,93.0 1075.5,92.9C1078.2,92.7 1080.8,92.6 1083.5,92.4C1086.2,92.2 1088.8,91.9 1091.5,91.7C1094.2,91.4 1096.8,91.1 1099.5,90.9C1102.2,90.6 1104.8,90.3 1107.5,90.0C1110.2,89.8 1112.8,89.5 1115.5,89.3C1118.2,89.0 1120.8,88.8 1123.5,88.6C1126.2,88.3 1128.8,88.1 1131.5,88.0C1134.2,87.8 1136.8,87.7 1139.5,87.6C1142.2,87.5 1144.8,87.5 1147.5,87.5C1150.2,87.5 1152.8,87.5 1155.5,87.6C1158.2,87.6 1160.8,87.7 1163.5,87.9C1166.2,88.0 1168.8,88.2 1171.5,88.4C1174.2,88.6 1176.8,88.8 1179.5,89.0C1182.2,89.3 1184.8,89.5 1187.5,89.8C1190.2,90.0 1192.8,90.3 1195.5,90.6C1198.2,90.8 1200.8,91.1 1203.5,91.3C1206.2,91.6 1208.8,91.8 1211.5,92.0C1214.2,92.2 1216.8,92.4 1219.5,92.5C1222.2,92.7 1224.8,92.8 1227.5,92.9C1230.2,93.0 1232.8,93.0 1235.5,93.0C1238.2,93.0 1240.8,93.0 1243.5,92.9C1246.2,92.8 1248.8,92.7 1251.5,92.6C1254.2,92.4 1256.8,92.2 1259.5,92.0C1262.2,91.8 1264.8,91.6 1267.5,91.4C1270.2,91.1 1272.8,90.8 1275.5,90.6C1278.2,90.3 1280.8,90.0 1283.5,89.7C1286.2,89.5 1288.8,89.2 1291.5,88.9C1294.2,88.7 1296.8,88.4 1299.5,88.2C1302.2,88.0 1304.8,87.8 1307.5,87.7C1310.2,87.5 1312.8,87.4 1315.5,87.3C1318.2,87.2 1320.8,87.1 1323.5,87.1C1326.2,87.1 1328.8,87.1 1331.5,87.2C1334.2,87.2 1336.8,87.3 1339.5,87.5C1342.2,87.6 1344.8,87.8 1347.5,88.0C1350.2,88.2 1352.8,88.4 1355.5,88.6C1358.2,88.8 1360.8,89.1 1363.5,89.4C1366.2,89.6 1368.8,89.9 1371.5,90.1C1374.2,90.4 1376.8,90.7 1379.5,90.9C1382.2,91.2 1384.8,91.4 1387.5,91.6C1390.2,91.8 1392.8,92.0 1395.5,92.1C1398.2,92.3 1400.8,92.4 1403.5,92.5C1406.2,92.6 1408.8,92.6 1411.5,92.6C1414.2,92.6 1416.8,92.6 1419.5,92.5C1422.2,92.5 1424.8,92.4 1427.5,92.2C1430.2,92.1 1432.8,91.9 1435.5,91.7C1438.2,91.5 1440.8,91.3 1443.5,91.0C1446.2,90.8 1448.8,90.5 1451.5,90.3C1454.2,90.0 1456.8,89.7 1459.5,89.4C1462.2,89.2 1464.8,88.9 1467.5,88.6C1470.2,88.4 1472.8,88.1 1475.5,87.9C1478.2,87.7 1480.8,87.5 1483.5,87.3C1486.2,87.2 1488.8,87.0 1491.5,86.9C1494.2,86.8 1496.8,86.8 1499.5,86.8C1502.2,86.7 1504.8,86.8 1507.5,86.8C1510.2,86.9 1512.8,87.0 1515.5,87.1C1518.2,87.2 1520.8,87.4 1523.5,87.6C1526.2,87.7 1528.8,88.0 1531.5,88.2C1534.2,88.4 1536.8,88.7 1539.5,88.9C1542.2,89.2 1544.8,89.5 1547.5,89.7C1550.2,90.0 1552.8,90.2 1555.5,90.5C1558.2,90.7 1560.8,91.0 1563.5,91.2C1566.2,91.4 1568.8,91.6 1571.5,91.7C1574.2,91.9 1576.8,92.0 1579.5,92.1C1582.2,92.2 1584.8,92.2 1587.5,92.3C1590.2,92.3 1592.8,92.2 1595.5,92.2C1598.2,92.1 1600.8,92.0 1603.5,91.9C1606.2,91.8 1608.8,91.6 1611.5,91.4C1614.2,91.2 1616.8,91.0 1619.5,90.7C1622.2,90.5 1624.8,90.2 1627.5,90.0C1630.2,89.7 1632.8,89.4 1635.5,89.1C1638.2,88.9 1640.8,88.6 1643.5,88.3C1646.2,88.1 1648.8,87.8 1651.5,87.6C1654.2,87.4 1656.8,87.2 1659.5,87.0C1662.2,86.8 1664.8,86.7 1667.5,86.6C1670.2,86.5 1672.8,86.4 1675.5,86.4C1678.2,86.4 1680.8,86.4 1683.5,86.4C1686.2,86.5 1688.8,86.6 1691.5,86.7C1694.2,86.8 1696.8,87.0 1699.5,87.1C1702.2,87.3 1704.8,87.5 1707.5,87.8C1710.2,88.0 1712.8,88.2 1715.5,88.5C1718.2,88.8 1720.8,89.0 1723.5,89.3C1726.2,89.6 1728.8,89.8 1731.5,90.1C1734.2,90.3 1736.8,90.6 1739.5,90.8C1742.2,91.0 1744.8,91.2 1747.5,91.3C1750.2,91.5 1752.8,91.6 1755.5,91.7C1758.2,91.8 1760.8,91.9 1763.5,91.9C1766.2,91.9 1768.8,91.9 1771.5,91.8C1774.2,91.8 1776.8,91.7 1779.5,91.5C1782.2,91.4 1784.8,91.3 1787.5,91.1C1790.2,90.9 1792.8,90.6 1795.5,90.4C1798.2,90.2 1800.8,89.9 1803.5,89.6C1806.2,89.4 1808.8,89.1 1811.5,88.8C1814.2,88.6 1816.8,88.3 1819.5,88.0C1822.2,87.8 1824.8,87.5 1827.5,87.3C1830.2,87.1 1832.8,86.8 1835.5,86.7C1838.2,86.5 1840.8,86.4 1843.5,86.2C1846.2,86.1 1848.8,86.1 1851.5,86.0C1854.2,86.0 1856.8,86.0 1859.5,86.0C1862.2,86.1 1864.8,86.2 1867.5,86.3C1870.2,86.4 1872.8,86.6 1875.5,86.7C1878.2,86.9 1880.8,87.1 1883.5,87.3C1886.2,87.6 1888.8,87.8 1891.5,88.1C1894.2,88.3 1896.8,88.6 1899.5,88.9C1902.2,89.1 1904.8,89.4 1907.5,89.6C1910.2,89.9 1912.8,90.1 1915.5,90.4C1918.2,90.6 1920.8,90.8 1923.5,90.9C1926.2,91.1 1928.8,91.2 1931.5,91.3C1934.2,91.4 1936.8,91.5 1939.5,91.5C1942.2,91.5 1944.8,91.5 1947.5,91.5C1950.2,91.4 1952.8,91.3 1955.5,91.2C1958.2,91.1 1960.8,90.9 1963.5,90.7C1966.2,90.6 1968.8,90.3 1971.5,90.1C1974.2,89.9 1976.8,89.6 1979.5,89.3C1982.2,89.1 1984.8,88.8 1987.5,88.5C1990.2,88.2 1992.8,88.0 1995.5,87.7C1998.2,87.4 2000.8,87.2 2003.5,87.0C2006.2,86.7 2008.8,86.5 2011.5,86.3C2014.2,86.2 2016.8,86.0 2019.5,85.9C2022.2,85.8 2024.8,85.7 2027.5,85.7C2030.2,85.6 2034.2,85.7 2035.5,85.7" transform="translate(0,-4.8)" fill="none" stroke="#00ff00" stroke-width="5" stroke-opacity="0.35" stroke-linejoin="round"/><path d="M1059.5,93.4C1060.8,93.3 1064.8,93.3 1067.5,93.2C1070.2,93.2 1072.8,93.0 1075.5,92.9C1078.2,92.7 1080.8,92.6 1083.5,92.4C1086.2,92.2 1088.8,91.9 1091.5,91.7C1094.2,91.4 1096.8,91.1 1099.5,90.9C1102.2,90.6 1104.8,90.3 1107.5,90.0C1110.2,89.8 1112.8,89.5 1115.5,89.3C1118.2,89.0 1120.8,88.8 1123.5,88.6C1126.2,88.3 1128.8,88.1 1131.5,88.0C1134.2,87.8 1136.8,87.7 1139.5,87.6C1142.2,87.5 1144.8,87.5 1147.5,87.5C1150.2,87.5 1152.8,87.5 1155.5,87.6C1158.2,87.6 1160.8,87.7 1163.5,87.9C1166.2,88.0 1168.8,88.2 1171.5,88.4C1174.2,88.6 1176.8,88.8 1179.5,89.0C1182.2,89.3 1184.8,89.5 1187.5,89.8C1190.2,90.0 1192.8,90.3 1195.5,90.6C1198.2,90.8 1200.8,91.1 1203.5,91.3C1206.2,91.6 1208.8,91.8 1211.5,92.0C1214.2,92.2 1216.8,92.4 1219.5,92.5C1222.2,92.7 1224.8,92.8 1227.5,92.9C1230.2,93.0 1232.8,93.0 1235.5,93.0C1238.2,93.0 1240.8,93.0 1243.5,92.9C1246.2,92.8 1248.8,92.7 1251.5,92.6C1254.2,92.4 1256.8,92.2 1259.5,92.0C1262.2,91.8 1264.8,91.6 1267.5,91.4C1270.2,91.1 1272.8,90.8 1275.5,90.6C1278.2,90.3 1280.8,90.0 1283.5,89.7C1286.2,89.5 1288.8,89.2 1291.5,88.9C1294.2,88.7 1296.8,88.4 1299.5,88.2C1302.2,88.0 1304.8,87.8 1307.5,87.7C1310.2,87.5 1312.8,87.4 1315.5,87.3C1318.2,87.2 1320.8,87.1 1323.5,87.1C1326.2,87.1 1328.8,87.1 1331.5,87.2C1334.2,87.2 1336.8,87.3 1339.5,87.5C1342.2,87.6 1344.8,87.8 1347.5,88.0C1350.2,88.2 1352.8,88.4 1355.5,88.6C1358.2,88.8 1360.8,89.1 1363.5,89.4C1366.2,89.6 1368.8,89.9 1371.5,90.1C1374.2,90.4 1376.8,90.7 1379.5,90.9C1382.2,91.2 1384.8,91.4 1387.5,91.6C1390.2,91.8 1392.8,92.0 1395.5,92.1C1398.2,92.3 1400.8,92.4 1403.5,92.5C1406.2,92.6 1408.8,92.6 1411.5,92.6C1414.2,92.6 1416.8,92.6 1419.5,92.5C1422.2,92.5 1424.8,92.4 1427.5,92.2C1430.2,92.1 1432.8,91.9 1435.5,91.7C1438.2,91.5 1440.8,91.3 1443.5,91.0C1446.2,90.8 1448.8,90.5 1451.5,90.3C1454.2,90.0 1456.8,89.7 1459.5,89.4C1462.2,89.2 1464.8,88.9 1467.5,88.6C1470.2,88.4 1472.8,88.1 1475.5,87.9C1478.2,87.7 1480.8,87.5 1483.5,87.3C1486.2,87.2 1488.8,87.0 1491.5,86.9C1494.2,86.8 1496.8,86.8 1499.5,86.8C1502.2,86.7 1504.8,86.8 1507.5,86.8C1510.2,86.9 1512.8,87.0 1515.5,87.1C1518.2,87.2 1520.8,87.4 1523.5,87.6C1526.2,87.7 1528.8,88.0 1531.5,88.2C1534.2,88.4 1536.8,88.7 1539.5,88.9C1542.2,89.2 1544.8,89.5 1547.5,89.7C1550.2,90.0 1552.8,90.2 1555.5,90.5C1558.2,90.7 1560.8,91.0 1563.5,91.2C1566.2,91.4 1568.8,91.6 1571.5,91.7C1574.2,91.9 1576.8,92.0 1579.5,92.1C1582.2,92.2 1584.8,92.2 1587.5,92.3C1590.2,92.3 1592.8,92.2 1595.5,92.2C1598.2,92.1 1600.8,92.0 1603.5,91.9C1606.2,91.8 1608.8,91.6 1611.5,91.4C1614.2,91.2 1616.8,91.0 1619.5,90.7C1622.2,90.5 1624.8,90.2 1627.5,90.0C1630.2,89.7 1632.8,89.4 1635.5,89.1C1638.2,88.9 1640.8,88.6 1643.5,88.3C1646.2,88.1 1648.8,87.8 1651.5,87.6C1654.2,87.4 1656.8,87.2 1659.5,87.0C1662.2,86.8 1664.8,86.7 1667.5,86.6C1670.2,86.5 1672.8,86.4 1675.5,86.4C1678.2,86.4 1680.8,86.4 1683.5,86.4C1686.2,86.5 1688.8,86.6 1691.5,86.7C1694.2,86.8 1696.8,87.0 1699.5,87.1C1702.2,87.3 1704.8,87.5 1707.5,87.8C1710.2,88.0 1712.8,88.2 1715.5,88.5C1718.2,88.8 1720.8,89.0 1723.5,89.3C1726.2,89.6 1728.8,89.8 1731.5,90.1C1734.2,90.3 1736.8,90.6 1739.5,90.8C1742.2,91.0 1744.8,91.2 1747.5,91.3C1750.2,91.5 1752.8,91.6 1755.5,91.7C1758.2,91.8 1760.8,91.9 1763.5,91.9C1766.2,91.9 1768.8,91.9 1771.5,91.8C1774.2,91.8 1776.8,91.7 1779.5,91.5C1782.2,91.4 1784.8,91.3 1787.5,91.1C1790.2,90.9 1792.8,90.6 1795.5,90.4C1798.2,90.2 1800.8,89.9 1803.5,89.6C1806.2,89.4 1808.8,89.1 1811.5,88.8C1814.2,88.6 1816.8,88.3 1819.5,88.0C1822.2,87.8 1824.8,87.5 1827.5,87.3C1830.2,87.1 1832.8,86.8 1835.5,86.7C1838.2,86.5 1840.8,86.4 1843.5,86.2C1846.2,86.1 1848.8,86.1 1851.5,86.0C1854.2,86.0 1856.8,86.0 1859.5,86.0C1862.2,86.1 1864.8,86.2 1867.5,86.3C1870.2,86.4 1872.8,86.6 1875.5,86.7C1878.2,86.9 1880.8,87.1 1883.5,87.3C1886.2,87.6 1888.8,87.8 1891.5,88.1C1894.2,88.3 1896.8,88.6 1899.5,88.9C1902.2,89.1 1904.8,89.4 1907.5,89.6C1910.2,89.9 1912.8,90.1 1915.5,90.4C1918.2,90.6 1920.8,90.8 1923.5,90.9C1926.2,91.1 1928.8,91.2 1931.5,91.3C1934.2,91.4 1936.8,91.5 1939.5,91.5C1942.2,91.5 1944.8,91.5 1947.5,91.5C1950.2,91.4 1952.8,91.3 1955.5,91.2C1958.2,91.1 1960.8,90.9 1963.5,90.7C1966.2,90.6 1968.8,90.3 1971.5,90.1C1974.2,89.9 1976.8,89.6 1979.5,89.3C1982.2,89.1 1984.8,88.8 1987.5,88.5C1990.2,88.2 1992.8,88.0 1995.5,87.7C1998.2,87.4 2000.8,87.2 2003.5,87.0C2006.2,86.7 2008.8,86.5 2011.5,86.3C2014.2,86.2 2016.8,86.0 2019.5,85.9C2022.2,85.8 2024.8,85.7 2027.5,85.7C2030.2,85.6 2034.2,85.7 2035.5,85.7" transform="translate(0,-2.8)" fill="none" stroke="#00ff00" stroke-width="5" stroke-opacity="1.0" stroke-linejoin="round"/><path d="M1059.5,93.4C1060.8,93.3 1064.8,93.3 1067.5,93.2C1070.2,93.2 1072.8,93.0 1075.5,92.9C1078.2,92.7 1080.8,92.6 1083.5,92.4C1086.2,92.2 1088.8,91.9 1091.5,91.7C1094.2,91.4 1096.8,91.1 1099.5,90.9C1102.2,90.6 1104.8,90.3 1107.5,90.0C1110.2,89.8 1112.8,89.5 1115.5,89.3C1118.2,89.0 1120.8,88.8 1123.5,88.6C1126.2,88.3 1128.8,88.1 1131.5,88.0C1134.2,87.8 1136.8,87.7 1139.5,87.6C1142.2,87.5 1144.8,87.5 1147.5,87.5C1150.2,87.5 1152.8,87.5 1155.5,87.6C1158.2,87.6 1160.8,87.7 1163.5,87.9C1166.2,88.0 1168.8,88.2 1171.5,88.4C1174.2,88.6 1176.8,88.8 1179.5,89.0C1182.2,89.3 1184.8,89.5 1187.5,89.8C1190.2,90.0 1192.8,90.3 1195.5,90.6C1198.2,90.8 1200.8,91.1 1203.5,91.3C1206.2,91.6 1208.8,91.8 1211.5,92.0C1214.2,92.2 1216.8,92.4 1219.5,92.5C1222.2,92.7 1224.8,92.8 1227.5,92.9C1230.2,93.0 1232.8,93.0 1235.5,93.0C1238.2,93.0 1240.8,93.0 1243.5,92.9C1246.2,92.8 1248.8,92.7 1251.5,92.6C1254.2,92.4 1256.8,92.2 1259.5,92.0C1262.2,91.8 1264.8,91.6 1267.5,91.4C1270.2,91.1 1272.8,90.8 1275.5,90.6C1278.2,90.3 1280.8,90.0 1283.5,89.7C1286.2,89.5 1288.8,89.2 1291.5,88.9C1294.2,88.7 1296.8,88.4 1299.5,88.2C1302.2,88.0 1304.8,87.8 1307.5,87.7C1310.2,87.5 1312.8,87.4 1315.5,87.3C1318.2,87.2 1320.8,87.1 1323.5,87.1C1326.2,87.1 1328.8,87.1 1331.5,87.2C1334.2,87.2 1336.8,87.3 1339.5,87.5C1342.2,87.6 1344.8,87.8 1347.5,88.0C1350.2,88.2 1352.8,88.4 1355.5,88.6C1358.2,88.8 1360.8,89.1 1363.5,89.4C1366.2,89.6 1368.8,89.9 1371.5,90.1C1374.2,90.4 1376.8,90.7 1379.5,90.9C1382.2,91.2 1384.8,91.4 1387.5,91.6C1390.2,91.8 1392.8,92.0 1395.5,92.1C1398.2,92.3 1400.8,92.4 1403.5,92.5C1406.2,92.6 1408.8,92.6 1411.5,92.6C1414.2,92.6 1416.8,92.6 1419.5,92.5C1422.2,92.5 1424.8,92.4 1427.5,92.2C1430.2,92.1 1432.8,91.9 1435.5,91.7C1438.2,91.5 1440.8,91.3 1443.5,91.0C1446.2,90.8 1448.8,90.5 1451.5,90.3C1454.2,90.0 1456.8,89.7 1459.5,89.4C1462.2,89.2 1464.8,88.9 1467.5,88.6C1470.2,88.4 1472.8,88.1 1475.5,87.9C1478.2,87.7 1480.8,87.5 1483.5,87.3C1486.2,87.2 1488.8,87.0 1491.5,86.9C1494.2,86.8 1496.8,86.8 1499.5,86.8C1502.2,86.7 1504.8,86.8 1507.5,86.8C1510.2,86.9 1512.8,87.0 1515.5,87.1C1518.2,87.2 1520.8,87.4 1523.5,87.6C1526.2,87.7 1528.8,88.0 1531.5,88.2C1534.2,88.4 1536.8,88.7 1539.5,88.9C1542.2,89.2 1544.8,89.5 1547.5,89.7C1550.2,90.0 1552.8,90.2 1555.5,90.5C1558.2,90.7 1560.8,91.0 1563.5,91.2C1566.2,91.4 1568.8,91.6 1571.5,91.7C1574.2,91.9 1576.8,92.0 1579.5,92.1C1582.2,92.2 1584.8,92.2 1587.5,92.3C1590.2,92.3 1592.8,92.2 1595.5,92.2C1598.2,92.1 1600.8,92.0 1603.5,91.9C1606.2,91.8 1608.8,91.6 1611.5,91.4C1614.2,91.2 1616.8,91.0 1619.5,90.7C1622.2,90.5 1624.8,90.2 1627.5,90.0C1630.2,89.7 1632.8,89.4 1635.5,89.1C1638.2,88.9 1640.8,88.6 1643.5,88.3C1646.2,88.1 1648.8,87.8 1651.5,87.6C1654.2,87.4 1656.8,87.2 1659.5,87.0C1662.2,86.8 1664.8,86.7 1667.5,86.6C1670.2,86.5 1672.8,86.4 1675.5,86.4C1678.2,86.4 1680.8,86.4 1683.5,86.4C1686.2,86.5 1688.8,86.6 1691.5,86.7C1694.2,86.8 1696.8,87.0 1699.5,87.1C1702.2,87.3 1704.8,87.5 1707.5,87.8C1710.2,88.0 1712.8,88.2 1715.5,88.5C1718.2,88.8 1720.8,89.0 1723.5,89.3C1726.2,89.6 1728.8,89.8 1731.5,90.1C1734.2,90.3 1736.8,90.6 1739.5,90.8C1742.2,91.0 1744.8,91.2 1747.5,91.3C1750.2,91.5 1752.8,91.6 1755.5,91.7C1758.2,91.8 1760.8,91.9 1763.5,91.9C1766.2,91.9 1768.8,91.9 1771.5,91.8C1774.2,91.8 1776.8,91.7 1779.5,91.5C1782.2,91.4 1784.8,91.3 1787.5,91.1C1790.2,90.9 1792.8,90.6 1795.5,90.4C1798.2,90.2 1800.8,89.9 1803.5,89.6C1806.2,89.4 1808.8,89.1 1811.5,88.8C1814.2,88.6 1816.8,88.3 1819.5,88.0C1822.2,87.8 1824.8,87.5 1827.5,87.3C1830.2,87.1 1832.8,86.8 1835.5,86.7C1838.2,86.5 1840.8,86.4 1843.5,86.2C1846.2,86.1 1848.8,86.1 1851.5,86.0C1854.2,86.0 1856.8,86.0 1859.5,86.0C1862.2,86.1 1864.8,86.2 1867.5,86.3C1870.2,86.4 1872.8,86.6 1875.5,86.7C1878.2,86.9 1880.8,87.1 1883.5,87.3C1886.2,87.6 1888.8,87.8 1891.5,88.1C1894.2,88.3 1896.8,88.6 1899.5,88.9C1902.2,89.1 1904.8,89.4 1907.5,89.6C1910.2,89.9 1912.8,90.1 1915.5,90.4C1918.2,90.6 1920.8,90.8 1923.5,90.9C1926.2,91.1 1928.8,91.2 1931.5,91.3C1934.2,91.4 1936.8,91.5 1939.5,91.5C1942.2,91.5 1944.8,91.5 1947.5,91.5C1950.2,91.4 1952.8,91.3 1955.5,91.2C1958.2,91.1 1960.8,90.9 1963.5,90.7C1966.2,90.6 1968.8,90.3 1971.5,90.1C1974.2,89.9 1976.8,89.6 1979.5,89.3C1982.2,89.1 1984.8,88.8 1987.5,88.5C1990.2,88.2 1992.8,88.0 1995.5,87.7C1998.2,87.4 2000.8,87.2 2003.5,87.0C2006.2,86.7 2008.8,86.5 2011.5,86.3C2014.2,86.2 2016.8,86.0 2019.5,85.9C2022.2,85.8 2024.8,85.7 2027.5,85.7C2030.2,85.6 2034.2,85.7 2035.5,85.7" transform="translate(0,0)" fill="none" stroke="#00ff00" stroke-width="5" stroke-opacity="1.0" stroke-linejoin="round"/><path d="M1059.5,93.4C1060.8,93.3 1064.8,93.3 1067.5,93.2C1070.2,93.2 1072.8,93.0 1075.5,92.9C1078.2,92.7 1080.8,92.6 1083.5,92.4C1086.2,92.2 1088.8,91.9 1091.5,91.7C1094.2,91.4 1096.8,91.1 1099.5,90.9C1102.2,90.6 1104.8,90.3 1107.5,90.0C1110.2,89.8 1112.8,89.5 1115.5,89.3C1118.2,89.0 1120.8,88.8 1123.5,88.6C1126.2,88.3 1128.8,88.1 1131.5,88.0C1134.2,87.8 1136.8,87.7 1139.5,87.6C1142.2,87.5 1144.8,87.5 1147.5,87.5C1150.2,87.5 1152.8,87.5 1155.5,87.6C1158.2,87.6 1160.8,87.7 1163.5,87.9C1166.2,88.0 1168.8,88.2 1171.5,88.4C1174.2,88.6 1176.8,88.8 1179.5,89.0C1182.2,89.3 1184.8,89.5 1187.5,89.8C1190.2,90.0 1192.8,90.3 1195.5,90.6C1198.2,90.8 1200.8,91.1 1203.5,91.3C1206.2,91.6 1208.8,91.8 1211.5,92.0C1214.2,92.2 1216.8,92.4 1219.5,92.5C1222.2,92.7 1224.8,92.8 1227.5,92.9C1230.2,93.0 1232.8,93.0 1235.5,93.0C1238.2,93.0 1240.8,93.0 1243.5,92.9C1246.2,92.8 1248.8,92.7 1251.5,92.6C1254.2,92.4 1256.8,92.2 1259.5,92.0C1262.2,91.8 1264.8,91.6 1267.5,91.4C1270.2,91.1 1272.8,90.8 1275.5,90.6C1278.2,90.3 1280.8,90.0 1283.5,89.7C1286.2,89.5 1288.8,89.2 1291.5,88.9C1294.2,88.7 1296.8,88.4 1299.5,88.2C1302.2,88.0 1304.8,87.8 1307.5,87.7C1310.2,87.5 1312.8,87.4 1315.5,87.3C1318.2,87.2 1320.8,87.1 1323.5,87.1C1326.2,87.1 1328.8,87.1 1331.5,87.2C1334.2,87.2 1336.8,87.3 1339.5,87.5C1342.2,87.6 1344.8,87.8 1347.5,88.0C1350.2,88.2 1352.8,88.4 1355.5,88.6C1358.2,88.8 1360.8,89.1 1363.5,89.4C1366.2,89.6 1368.8,89.9 1371.5,90.1C1374.2,90.4 1376.8,90.7 1379.5,90.9C1382.2,91.2 1384.8,91.4 1387.5,91.6C1390.2,91.8 1392.8,92.0 1395.5,92.1C1398.2,92.3 1400.8,92.4 1403.5,92.5C1406.2,92.6 1408.8,92.6 1411.5,92.6C1414.2,92.6 1416.8,92.6 1419.5,92.5C1422.2,92.5 1424.8,92.4 1427.5,92.2C1430.2,92.1 1432.8,91.9 1435.5,91.7C1438.2,91.5 1440.8,91.3 1443.5,91.0C1446.2,90.8 1448.8,90.5 1451.5,90.3C1454.2,90.0 1456.8,89.7 1459.5,89.4C1462.2,89.2 1464.8,88.9 1467.5,88.6C1470.2,88.4 1472.8,88.1 1475.5,87.9C1478.2,87.7 1480.8,87.5 1483.5,87.3C1486.2,87.2 1488.8,87.0 1491.5,86.9C1494.2,86.8 1496.8,86.8 1499.5,86.8C1502.2,86.7 1504.8,86.8 1507.5,86.8C1510.2,86.9 1512.8,87.0 1515.5,87.1C1518.2,87.2 1520.8,87.4 1523.5,87.6C1526.2,87.7 1528.8,88.0 1531.5,88.2C1534.2,88.4 1536.8,88.7 1539.5,88.9C1542.2,89.2 1544.8,89.5 1547.5,89.7C1550.2,90.0 1552.8,90.2 1555.5,90.5C1558.2,90.7 1560.8,91.0 1563.5,91.2C1566.2,91.4 1568.8,91.6 1571.5,91.7C1574.2,91.9 1576.8,92.0 1579.5,92.1C1582.2,92.2 1584.8,92.2 1587.5,92.3C1590.2,92.3 1592.8,92.2 1595.5,92.2C1598.2,92.1 1600.8,92.0 1603.5,91.9C1606.2,91.8 1608.8,91.6 1611.5,91.4C1614.2,91.2 1616.8,91.0 1619.5,90.7C1622.2,90.5 1624.8,90.2 1627.5,90.0C1630.2,89.7 1632.8,89.4 1635.5,89.1C1638.2,88.9 1640.8,88.6 1643.5,88.3C1646.2,88.1 1648.8,87.8 1651.5,87.6C1654.2,87.4 1656.8,87.2 1659.5,87.0C1662.2,86.8 1664.8,86.7 1667.5,86.6C1670.2,86.5 1672.8,86.4 1675.5,86.4C1678.2,86.4 1680.8,86.4 1683.5,86.4C1686.2,86.5 1688.8,86.6 1691.5,86.7C1694.2,86.8 1696.8,87.0 1699.5,87.1C1702.2,87.3 1704.8,87.5 1707.5,87.8C1710.2,88.0 1712.8,88.2 1715.5,88.5C1718.2,88.8 1720.8,89.0 1723.5,89.3C1726.2,89.6 1728.8,89.8 1731.5,90.1C1734.2,90.3 1736.8,90.6 1739.5,90.8C1742.2,91.0 1744.8,91.2 1747.5,91.3C1750.2,91.5 1752.8,91.6 1755.5,91.7C1758.2,91.8 1760.8,91.9 1763.5,91.9C1766.2,91.9 1768.8,91.9 1771.5,91.8C1774.2,91.8 1776.8,91.7 1779.5,91.5C1782.2,91.4 1784.8,91.3 1787.5,91.1C1790.2,90.9 1792.8,90.6 1795.5,90.4C1798.2,90.2 1800.8,89.9 1803.5,89.6C1806.2,89.4 1808.8,89.1 1811.5,88.8C1814.2,88.6 1816.8,88.3 1819.5,88.0C1822.2,87.8 1824.8,87.5 1827.5,87.3C1830.2,87.1 1832.8,86.8 1835.5,86.7C1838.2,86.5 1840.8,86.4 1843.5,86.2C1846.2,86.1 1848.8,86.1 1851.5,86.0C1854.2,86.0 1856.8,86.0 1859.5,86.0C1862.2,86.1 1864.8,86.2 1867.5,86.3C1870.2,86.4 1872.8,86.6 1875.5,86.7C1878.2,86.9 1880.8,87.1 1883.5,87.3C1886.2,87.6 1888.8,87.8 1891.5,88.1C1894.2,88.3 1896.8,88.6 1899.5,88.9C1902.2,89.1 1904.8,89.4 1907.5,89.6C1910.2,89.9 1912.8,90.1 1915.5,90.4C1918.2,90.6 1920.8,90.8 1923.5,90.9C1926.2,91.1 1928.8,91.2 1931.5,91.3C1934.2,91.4 1936.8,91.5 1939.5,91.5C1942.2,91.5 1944.8,91.5 1947.5,91.5C1950.2,91.4 1952.8,91.3 1955.5,91.2C1958.2,91.1 1960.8,90.9 1963.5,90.7C1966.2,90.6 1968.8,90.3 1971.5,90.1C1974.2,89.9 1976.8,89.6 1979.5,89.3C1982.2,89.1 1984.8,88.8 1987.5,88.5C1990.2,88.2 1992.8,88.0 1995.5,87.7C1998.2,87.4 2000.8,87.2 2003.5,87.0C2006.2,86.7 2008.8,86.5 2011.5,86.3C2014.2,86.2 2016.8,86.0 2019.5,85.9C2022.2,85.8 2024.8,85.7 2027.5,85.7C2030.2,85.6 2034.2,85.7 2035.5,85.7" transform="translate(0,2.8)" fill="none" stroke="#00ff00" stroke-width="5" stroke-opacity="1.0" stroke-linejoin="round"/><path d="M1059.5,93.4C1060.8,93.3 1064.8,93.3 1067.5,93.2C1070.2,93.2 1072.8,93.0 1075.5,92.9C1078.2,92.7 1080.8,92.6 1083.5,92.4C1086.2,92.2 1088.8,91.9 1091.5,91.7C1094.2,91.4 1096.8,91.1 1099.5,90.9C1102.2,90.6 1104.8,90.3 1107.5,90.0C1110.2,89.8 1112.8,89.5 1115.5,89.3C1118.2,89.0 1120.8,88.8 1123.5,88.6C1126.2,88.3 1128.8,88.1 1131.5,88.0C1134.2,87.8 1136.8,87.7 1139.5,87.6C1142.2,87.5 1144.8,87.5 1147.5,87.5C1150.2,87.5 1152.8,87.5 1155.5,87.6C1158.2,87.6 1160.8,87.7 1163.5,87.9C1166.2,88.0 1168.8,88.2 1171.5,88.4C1174.2,88.6 1176.8,88.8 1179.5,89.0C1182.2,89.3 1184.8,89.5 1187.5,89.8C1190.2,90.0 1192.8,90.3 1195.5,90.6C1198.2,90.8 1200.8,91.1 1203.5,91.3C1206.2,91.6 1208.8,91.8 1211.5,92.0C1214.2,92.2 1216.8,92.4 1219.5,92.5C1222.2,92.7 1224.8,92.8 1227.5,92.9C1230.2,93.0 1232.8,93.0 1235.5,93.0C1238.2,93.0 1240.8,93.0 1243.5,92.9C1246.2,92.8 1248.8,92.7 1251.5,92.6C1254.2,92.4 1256.8,92.2 1259.5,92.0C1262.2,91.8 1264.8,91.6 1267.5,91.4C1270.2,91.1 1272.8,90.8 1275.5,90.6C1278.2,90.3 1280.8,90.0 1283.5,89.7C1286.2,89.5 1288.8,89.2 1291.5,88.9C1294.2,88.7 1296.8,88.4 1299.5,88.2C1302.2,88.0 1304.8,87.8 1307.5,87.7C1310.2,87.5 1312.8,87.4 1315.5,87.3C1318.2,87.2 1320.8,87.1 1323.5,87.1C1326.2,87.1 1328.8,87.1 1331.5,87.2C1334.2,87.2 1336.8,87.3 1339.5,87.5C1342.2,87.6 1344.8,87.8 1347.5,88.0C1350.2,88.2 1352.8,88.4 1355.5,88.6C1358.2,88.8 1360.8,89.1 1363.5,89.4C1366.2,89.6 1368.8,89.9 1371.5,90.1C1374.2,90.4 1376.8,90.7 1379.5,90.9C1382.2,91.2 1384.8,91.4 1387.5,91.6C1390.2,91.8 1392.8,92.0 1395.5,92.1C1398.2,92.3 1400.8,92.4 1403.5,92.5C1406.2,92.6 1408.8,92.6 1411.5,92.6C1414.2,92.6 1416.8,92.6 1419.5,92.5C1422.2,92.5 1424.8,92.4 1427.5,92.2C1430.2,92.1 1432.8,91.9 1435.5,91.7C1438.2,91.5 1440.8,91.3 1443.5,91.0C1446.2,90.8 1448.8,90.5 1451.5,90.3C1454.2,90.0 1456.8,89.7 1459.5,89.4C1462.2,89.2 1464.8,88.9 1467.5,88.6C1470.2,88.4 1472.8,88.1 1475.5,87.9C1478.2,87.7 1480.8,87.5 1483.5,87.3C1486.2,87.2 1488.8,87.0 1491.5,86.9C1494.2,86.8 1496.8,86.8 1499.5,86.8C1502.2,86.7 1504.8,86.8 1507.5,86.8C1510.2,86.9 1512.8,87.0 1515.5,87.1C1518.2,87.2 1520.8,87.4 1523.5,87.6C1526.2,87.7 1528.8,88.0 1531.5,88.2C1534.2,88.4 1536.8,88.7 1539.5,88.9C1542.2,89.2 1544.8,89.5 1547.5,89.7C1550.2,90.0 1552.8,90.2 1555.5,90.5C1558.2,90.7 1560.8,91.0 1563.5,91.2C1566.2,91.4 1568.8,91.6 1571.5,91.7C1574.2,91.9 1576.8,92.0 1579.5,92.1C1582.2,92.2 1584.8,92.2 1587.5,92.3C1590.2,92.3 1592.8,92.2 1595.5,92.2C1598.2,92.1 1600.8,92.0 1603.5,91.9C1606.2,91.8 1608.8,91.6 1611.5,91.4C1614.2,91.2 1616.8,91.0 1619.5,90.7C1622.2,90.5 1624.8,90.2 1627.5,90.0C1630.2,89.7 1632.8,89.4 1635.5,89.1C1638.2,88.9 1640.8,88.6 1643.5,88.3C1646.2,88.1 1648.8,87.8 1651.5,87.6C1654.2,87.4 1656.8,87.2 1659.5,87.0C1662.2,86.8 1664.8,86.7 1667.5,86.6C1670.2,86.5 1672.8,86.4 1675.5,86.4C1678.2,86.4 1680.8,86.4 1683.5,86.4C1686.2,86.5 1688.8,86.6 1691.5,86.7C1694.2,86.8 1696.8,87.0 1699.5,87.1C1702.2,87.3 1704.8,87.5 1707.5,87.8C1710.2,88.0 1712.8,88.2 1715.5,88.5C1718.2,88.8 1720.8,89.0 1723.5,89.3C1726.2,89.6 1728.8,89.8 1731.5,90.1C1734.2,90.3 1736.8,90.6 1739.5,90.8C1742.2,91.0 1744.8,91.2 1747.5,91.3C1750.2,91.5 1752.8,91.6 1755.5,91.7C1758.2,91.8 1760.8,91.9 1763.5,91.9C1766.2,91.9 1768.8,91.9 1771.5,91.8C1774.2,91.8 1776.8,91.7 1779.5,91.5C1782.2,91.4 1784.8,91.3 1787.5,91.1C1790.2,90.9 1792.8,90.6 1795.5,90.4C1798.2,90.2 1800.8,89.9 1803.5,89.6C1806.2,89.4 1808.8,89.1 1811.5,88.8C1814.2,88.6 1816.8,88.3 1819.5,88.0C1822.2,87.8 1824.8,87.5 1827.5,87.3C1830.2,87.1 1832.8,86.8 1835.5,86.7C1838.2,86.5 1840.8,86.4 1843.5,86.2C1846.2,86.1 1848.8,86.1 1851.5,86.0C1854.2,86.0 1856.8,86.0 1859.5,86.0C1862.2,86.1 1864.8,86.2 1867.5,86.3C1870.2,86.4 1872.8,86.6 1875.5,86.7C1878.2,86.9 1880.8,87.1 1883.5,87.3C1886.2,87.6 1888.8,87.8 1891.5,88.1C1894.2,88.3 1896.8,88.6 1899.5,88.9C1902.2,89.1 1904.8,89.4 1907.5,89.6C1910.2,89.9 1912.8,90.1 1915.5,90.4C1918.2,90.6 1920.8,90.8 1923.5,90.9C1926.2,91.1 1928.8,91.2 1931.5,91.3C1934.2,91.4 1936.8,91.5 1939.5,91.5C1942.2,91.5 1944.8,91.5 1947.5,91.5C1950.2,91.4 1952.8,91.3 1955.5,91.2C1958.2,91.1 1960.8,90.9 1963.5,90.7C1966.2,90.6 1968.8,90.3 1971.5,90.1C1974.2,89.9 1976.8,89.6 1979.5,89.3C1982.2,89.1 1984.8,88.8 1987.5,88.5C1990.2,88.2 1992.8,88.0 1995.5,87.7C1998.2,87.4 2000.8,87.2 2003.5,87.0C2006.2,86.7 2008.8,86.5 2011.5,86.3C2014.2,86.2 2016.8,86.0 2019.5,85.9C2022.2,85.8 2024.8,85.7 2027.5,85.7C2030.2,85.6 2034.2,85.7 2035.5,85.7" transform="translate(0,4.8)" fill="none" stroke="#00ff00" stroke-width="5" stroke-opacity="0.35" stroke-linejoin="round"/>
</g><g filter="url(#rough2)">
<path d="M1015.1,532.0C1017.5,525.2 1025.0,505.0 1029.4,491.5C1033.8,478.0 1037.8,464.2 1041.5,451.0C1045.2,437.8 1048.0,425.5 1051.3,412.0C1054.6,398.5 1058.3,382.3 1061.6,370.0C1064.8,357.7 1066.7,356.3 1070.8,338.0C1074.9,319.7 1081.4,283.8 1086.1,260.0C1090.8,236.2 1094.1,218.2 1099.1,195.0C1104.1,171.8 1112.1,136.3 1116.1,121.0C1120.1,105.7 1121.3,106.8 1123.3,103.0C1125.2,99.2 1126.1,99.2 1127.8,98.0C1129.5,96.8 1131.5,95.5 1133.5,95.5C1135.5,95.5 1138.0,96.8 1139.8,98.0C1141.6,99.2 1142.5,99.2 1144.3,103.0C1146.1,106.8 1146.5,111.3 1150.8,121.0C1155.1,130.7 1164.0,147.8 1170.3,161.0C1176.5,174.2 1183.8,191.7 1188.3,200.0C1192.8,208.3 1194.1,208.2 1197.3,211.0C1200.5,213.8 1204.1,216.3 1207.3,217.0C1210.5,217.7 1213.3,215.6 1216.3,215.0C1219.3,214.4 1222.6,212.9 1225.3,213.2C1228.0,213.4 1229.8,214.5 1232.3,216.5C1234.8,218.5 1238.0,222.1 1240.3,225.0C1242.6,227.9 1243.5,227.8 1246.3,234.0C1249.1,240.2 1254.3,250.7 1257.3,262.0C1260.3,273.3 1262.2,289.2 1264.3,302.0C1266.4,314.8 1267.2,320.8 1269.8,339.0C1272.4,357.2 1275.5,385.6 1279.8,411.0C1284.1,436.4 1291.2,468.0 1295.8,491.5C1300.4,515.0 1304.3,538.2 1307.6,552.0C1310.8,565.8 1312.8,568.2 1315.3,574.5C1317.8,580.8 1319.6,586.3 1322.3,590.0C1325.0,593.7 1328.3,596.0 1331.3,596.5C1334.3,597.0 1337.5,595.1 1340.3,593.0C1343.1,590.9 1345.6,588.3 1348.3,584.0C1351.0,579.7 1353.0,575.7 1356.3,567.0C1359.6,558.3 1363.9,544.6 1368.3,532.0C1372.7,519.4 1378.2,505.0 1382.6,491.5C1387.0,478.0 1391.0,464.2 1394.7,451.0C1398.3,437.8 1401.2,425.5 1404.5,412.0C1407.8,398.5 1411.5,382.3 1414.8,370.0C1418.0,357.7 1419.9,356.3 1424.0,338.0C1428.1,319.7 1434.6,283.8 1439.3,260.0C1444.0,236.2 1447.3,218.2 1452.3,195.0C1457.3,171.8 1465.3,136.3 1469.3,121.0C1473.3,105.7 1474.5,106.8 1476.5,103.0C1478.5,99.2 1479.3,99.2 1481.0,98.0C1482.7,96.8 1484.7,95.5 1486.7,95.5C1488.7,95.5 1491.2,96.8 1493.0,98.0C1494.8,99.2 1495.7,99.2 1497.5,103.0C1499.3,106.8 1499.7,111.3 1504.0,121.0C1508.3,130.7 1517.2,147.8 1523.5,161.0C1529.8,174.2 1537.0,191.7 1541.5,200.0C1546.0,208.3 1547.3,208.2 1550.5,211.0C1553.7,213.8 1557.3,216.3 1560.5,217.0C1563.7,217.7 1566.5,215.6 1569.5,215.0C1572.5,214.4 1575.8,212.9 1578.5,213.2C1581.2,213.4 1583.0,214.5 1585.5,216.5C1588.0,218.5 1591.2,222.1 1593.5,225.0C1595.8,227.9 1596.7,227.8 1599.5,234.0C1602.3,240.2 1607.5,250.7 1610.5,262.0C1613.5,273.3 1615.4,289.2 1617.5,302.0C1619.6,314.8 1620.4,320.8 1623.0,339.0C1625.6,357.2 1628.7,385.6 1633.0,411.0C1637.3,436.4 1644.4,468.0 1649.0,491.5C1653.6,515.0 1657.5,538.2 1660.8,552.0C1664.0,565.8 1666.0,568.2 1668.5,574.5C1671.0,580.8 1672.8,586.3 1675.5,590.0C1678.2,593.7 1681.5,596.0 1684.5,596.5C1687.5,597.0 1690.7,595.1 1693.5,593.0C1696.3,590.9 1698.8,588.3 1701.5,584.0C1704.2,579.7 1706.2,575.7 1709.5,567.0C1712.8,558.3 1717.1,544.6 1721.5,532.0C1725.9,519.4 1731.4,505.0 1735.8,491.5C1740.2,478.0 1744.2,464.2 1747.9,451.0C1751.6,437.8 1754.4,425.5 1757.7,412.0C1761.0,398.5 1764.8,382.3 1768.0,370.0C1771.2,357.7 1773.1,356.3 1777.2,338.0C1781.3,319.7 1787.8,283.8 1792.5,260.0C1797.2,236.2 1800.5,218.2 1805.5,195.0C1810.5,171.8 1818.5,136.3 1822.5,121.0C1826.5,105.7 1827.8,106.8 1829.7,103.0C1831.7,99.2 1832.5,99.2 1834.2,98.0C1835.9,96.8 1837.9,95.5 1839.9,95.5C1841.9,95.5 1844.4,96.8 1846.2,98.0C1848.0,99.2 1848.9,99.2 1850.7,103.0C1852.5,106.8 1852.9,111.3 1857.2,121.0C1861.5,130.7 1870.4,147.8 1876.7,161.0C1882.9,174.2 1890.2,191.7 1894.7,200.0C1899.2,208.3 1900.5,208.2 1903.7,211.0C1906.9,213.8 1910.5,216.3 1913.7,217.0C1916.9,217.7 1919.7,215.6 1922.7,215.0C1925.7,214.4 1929.0,212.9 1931.7,213.2C1934.4,213.4 1936.2,214.5 1938.7,216.5C1941.2,218.5 1944.4,222.1 1946.7,225.0C1949.0,227.9 1949.9,227.8 1952.7,234.0C1955.5,240.2 1960.7,250.7 1963.7,262.0C1966.7,273.3 1968.6,289.2 1970.7,302.0C1972.8,314.8 1973.6,320.8 1976.2,339.0C1978.8,357.2 1981.9,385.6 1986.2,411.0C1990.5,436.4 1997.6,468.0 2002.2,491.5C2006.8,515.0 2010.7,538.2 2014.0,552.0C2017.2,565.8 2019.2,568.2 2021.7,574.5C2024.1,580.8 2026.0,586.3 2028.7,590.0C2031.4,593.7 2034.7,596.0 2037.7,596.5C2040.7,597.0 2043.9,595.1 2046.7,593.0C2049.5,590.9 2052.0,588.3 2054.7,584.0C2057.4,579.7 2059.4,575.7 2062.7,567.0C2066.0,558.3 2072.7,537.8 2074.7,532.0" transform="translate(0,-4.0)" fill="none" stroke="#0000ff" stroke-width="3.8" stroke-opacity="0.4" stroke-linejoin="round"/><path d="M1015.1,532.0C1017.5,525.2 1025.0,505.0 1029.4,491.5C1033.8,478.0 1037.8,464.2 1041.5,451.0C1045.2,437.8 1048.0,425.5 1051.3,412.0C1054.6,398.5 1058.3,382.3 1061.6,370.0C1064.8,357.7 1066.7,356.3 1070.8,338.0C1074.9,319.7 1081.4,283.8 1086.1,260.0C1090.8,236.2 1094.1,218.2 1099.1,195.0C1104.1,171.8 1112.1,136.3 1116.1,121.0C1120.1,105.7 1121.3,106.8 1123.3,103.0C1125.2,99.2 1126.1,99.2 1127.8,98.0C1129.5,96.8 1131.5,95.5 1133.5,95.5C1135.5,95.5 1138.0,96.8 1139.8,98.0C1141.6,99.2 1142.5,99.2 1144.3,103.0C1146.1,106.8 1146.5,111.3 1150.8,121.0C1155.1,130.7 1164.0,147.8 1170.3,161.0C1176.5,174.2 1183.8,191.7 1188.3,200.0C1192.8,208.3 1194.1,208.2 1197.3,211.0C1200.5,213.8 1204.1,216.3 1207.3,217.0C1210.5,217.7 1213.3,215.6 1216.3,215.0C1219.3,214.4 1222.6,212.9 1225.3,213.2C1228.0,213.4 1229.8,214.5 1232.3,216.5C1234.8,218.5 1238.0,222.1 1240.3,225.0C1242.6,227.9 1243.5,227.8 1246.3,234.0C1249.1,240.2 1254.3,250.7 1257.3,262.0C1260.3,273.3 1262.2,289.2 1264.3,302.0C1266.4,314.8 1267.2,320.8 1269.8,339.0C1272.4,357.2 1275.5,385.6 1279.8,411.0C1284.1,436.4 1291.2,468.0 1295.8,491.5C1300.4,515.0 1304.3,538.2 1307.6,552.0C1310.8,565.8 1312.8,568.2 1315.3,574.5C1317.8,580.8 1319.6,586.3 1322.3,590.0C1325.0,593.7 1328.3,596.0 1331.3,596.5C1334.3,597.0 1337.5,595.1 1340.3,593.0C1343.1,590.9 1345.6,588.3 1348.3,584.0C1351.0,579.7 1353.0,575.7 1356.3,567.0C1359.6,558.3 1363.9,544.6 1368.3,532.0C1372.7,519.4 1378.2,505.0 1382.6,491.5C1387.0,478.0 1391.0,464.2 1394.7,451.0C1398.3,437.8 1401.2,425.5 1404.5,412.0C1407.8,398.5 1411.5,382.3 1414.8,370.0C1418.0,357.7 1419.9,356.3 1424.0,338.0C1428.1,319.7 1434.6,283.8 1439.3,260.0C1444.0,236.2 1447.3,218.2 1452.3,195.0C1457.3,171.8 1465.3,136.3 1469.3,121.0C1473.3,105.7 1474.5,106.8 1476.5,103.0C1478.5,99.2 1479.3,99.2 1481.0,98.0C1482.7,96.8 1484.7,95.5 1486.7,95.5C1488.7,95.5 1491.2,96.8 1493.0,98.0C1494.8,99.2 1495.7,99.2 1497.5,103.0C1499.3,106.8 1499.7,111.3 1504.0,121.0C1508.3,130.7 1517.2,147.8 1523.5,161.0C1529.8,174.2 1537.0,191.7 1541.5,200.0C1546.0,208.3 1547.3,208.2 1550.5,211.0C1553.7,213.8 1557.3,216.3 1560.5,217.0C1563.7,217.7 1566.5,215.6 1569.5,215.0C1572.5,214.4 1575.8,212.9 1578.5,213.2C1581.2,213.4 1583.0,214.5 1585.5,216.5C1588.0,218.5 1591.2,222.1 1593.5,225.0C1595.8,227.9 1596.7,227.8 1599.5,234.0C1602.3,240.2 1607.5,250.7 1610.5,262.0C1613.5,273.3 1615.4,289.2 1617.5,302.0C1619.6,314.8 1620.4,320.8 1623.0,339.0C1625.6,357.2 1628.7,385.6 1633.0,411.0C1637.3,436.4 1644.4,468.0 1649.0,491.5C1653.6,515.0 1657.5,538.2 1660.8,552.0C1664.0,565.8 1666.0,568.2 1668.5,574.5C1671.0,580.8 1672.8,586.3 1675.5,590.0C1678.2,593.7 1681.5,596.0 1684.5,596.5C1687.5,597.0 1690.7,595.1 1693.5,593.0C1696.3,590.9 1698.8,588.3 1701.5,584.0C1704.2,579.7 1706.2,575.7 1709.5,567.0C1712.8,558.3 1717.1,544.6 1721.5,532.0C1725.9,519.4 1731.4,505.0 1735.8,491.5C1740.2,478.0 1744.2,464.2 1747.9,451.0C1751.6,437.8 1754.4,425.5 1757.7,412.0C1761.0,398.5 1764.8,382.3 1768.0,370.0C1771.2,357.7 1773.1,356.3 1777.2,338.0C1781.3,319.7 1787.8,283.8 1792.5,260.0C1797.2,236.2 1800.5,218.2 1805.5,195.0C1810.5,171.8 1818.5,136.3 1822.5,121.0C1826.5,105.7 1827.8,106.8 1829.7,103.0C1831.7,99.2 1832.5,99.2 1834.2,98.0C1835.9,96.8 1837.9,95.5 1839.9,95.5C1841.9,95.5 1844.4,96.8 1846.2,98.0C1848.0,99.2 1848.9,99.2 1850.7,103.0C1852.5,106.8 1852.9,111.3 1857.2,121.0C1861.5,130.7 1870.4,147.8 1876.7,161.0C1882.9,174.2 1890.2,191.7 1894.7,200.0C1899.2,208.3 1900.5,208.2 1903.7,211.0C1906.9,213.8 1910.5,216.3 1913.7,217.0C1916.9,217.7 1919.7,215.6 1922.7,215.0C1925.7,214.4 1929.0,212.9 1931.7,213.2C1934.4,213.4 1936.2,214.5 1938.7,216.5C1941.2,218.5 1944.4,222.1 1946.7,225.0C1949.0,227.9 1949.9,227.8 1952.7,234.0C1955.5,240.2 1960.7,250.7 1963.7,262.0C1966.7,273.3 1968.6,289.2 1970.7,302.0C1972.8,314.8 1973.6,320.8 1976.2,339.0C1978.8,357.2 1981.9,385.6 1986.2,411.0C1990.5,436.4 1997.6,468.0 2002.2,491.5C2006.8,515.0 2010.7,538.2 2014.0,552.0C2017.2,565.8 2019.2,568.2 2021.7,574.5C2024.1,580.8 2026.0,586.3 2028.7,590.0C2031.4,593.7 2034.7,596.0 2037.7,596.5C2040.7,597.0 2043.9,595.1 2046.7,593.0C2049.5,590.9 2052.0,588.3 2054.7,584.0C2057.4,579.7 2059.4,575.7 2062.7,567.0C2066.0,558.3 2072.7,537.8 2074.7,532.0" transform="translate(0,-2.3)" fill="none" stroke="#0000ff" stroke-width="3.8" stroke-opacity="1.0" stroke-linejoin="round"/><path d="M1015.1,532.0C1017.5,525.2 1025.0,505.0 1029.4,491.5C1033.8,478.0 1037.8,464.2 1041.5,451.0C1045.2,437.8 1048.0,425.5 1051.3,412.0C1054.6,398.5 1058.3,382.3 1061.6,370.0C1064.8,357.7 1066.7,356.3 1070.8,338.0C1074.9,319.7 1081.4,283.8 1086.1,260.0C1090.8,236.2 1094.1,218.2 1099.1,195.0C1104.1,171.8 1112.1,136.3 1116.1,121.0C1120.1,105.7 1121.3,106.8 1123.3,103.0C1125.2,99.2 1126.1,99.2 1127.8,98.0C1129.5,96.8 1131.5,95.5 1133.5,95.5C1135.5,95.5 1138.0,96.8 1139.8,98.0C1141.6,99.2 1142.5,99.2 1144.3,103.0C1146.1,106.8 1146.5,111.3 1150.8,121.0C1155.1,130.7 1164.0,147.8 1170.3,161.0C1176.5,174.2 1183.8,191.7 1188.3,200.0C1192.8,208.3 1194.1,208.2 1197.3,211.0C1200.5,213.8 1204.1,216.3 1207.3,217.0C1210.5,217.7 1213.3,215.6 1216.3,215.0C1219.3,214.4 1222.6,212.9 1225.3,213.2C1228.0,213.4 1229.8,214.5 1232.3,216.5C1234.8,218.5 1238.0,222.1 1240.3,225.0C1242.6,227.9 1243.5,227.8 1246.3,234.0C1249.1,240.2 1254.3,250.7 1257.3,262.0C1260.3,273.3 1262.2,289.2 1264.3,302.0C1266.4,314.8 1267.2,320.8 1269.8,339.0C1272.4,357.2 1275.5,385.6 1279.8,411.0C1284.1,436.4 1291.2,468.0 1295.8,491.5C1300.4,515.0 1304.3,538.2 1307.6,552.0C1310.8,565.8 1312.8,568.2 1315.3,574.5C1317.8,580.8 1319.6,586.3 1322.3,590.0C1325.0,593.7 1328.3,596.0 1331.3,596.5C1334.3,597.0 1337.5,595.1 1340.3,593.0C1343.1,590.9 1345.6,588.3 1348.3,584.0C1351.0,579.7 1353.0,575.7 1356.3,567.0C1359.6,558.3 1363.9,544.6 1368.3,532.0C1372.7,519.4 1378.2,505.0 1382.6,491.5C1387.0,478.0 1391.0,464.2 1394.7,451.0C1398.3,437.8 1401.2,425.5 1404.5,412.0C1407.8,398.5 1411.5,382.3 1414.8,370.0C1418.0,357.7 1419.9,356.3 1424.0,338.0C1428.1,319.7 1434.6,283.8 1439.3,260.0C1444.0,236.2 1447.3,218.2 1452.3,195.0C1457.3,171.8 1465.3,136.3 1469.3,121.0C1473.3,105.7 1474.5,106.8 1476.5,103.0C1478.5,99.2 1479.3,99.2 1481.0,98.0C1482.7,96.8 1484.7,95.5 1486.7,95.5C1488.7,95.5 1491.2,96.8 1493.0,98.0C1494.8,99.2 1495.7,99.2 1497.5,103.0C1499.3,106.8 1499.7,111.3 1504.0,121.0C1508.3,130.7 1517.2,147.8 1523.5,161.0C1529.8,174.2 1537.0,191.7 1541.5,200.0C1546.0,208.3 1547.3,208.2 1550.5,211.0C1553.7,213.8 1557.3,216.3 1560.5,217.0C1563.7,217.7 1566.5,215.6 1569.5,215.0C1572.5,214.4 1575.8,212.9 1578.5,213.2C1581.2,213.4 1583.0,214.5 1585.5,216.5C1588.0,218.5 1591.2,222.1 1593.5,225.0C1595.8,227.9 1596.7,227.8 1599.5,234.0C1602.3,240.2 1607.5,250.7 1610.5,262.0C1613.5,273.3 1615.4,289.2 1617.5,302.0C1619.6,314.8 1620.4,320.8 1623.0,339.0C1625.6,357.2 1628.7,385.6 1633.0,411.0C1637.3,436.4 1644.4,468.0 1649.0,491.5C1653.6,515.0 1657.5,538.2 1660.8,552.0C1664.0,565.8 1666.0,568.2 1668.5,574.5C1671.0,580.8 1672.8,586.3 1675.5,590.0C1678.2,593.7 1681.5,596.0 1684.5,596.5C1687.5,597.0 1690.7,595.1 1693.5,593.0C1696.3,590.9 1698.8,588.3 1701.5,584.0C1704.2,579.7 1706.2,575.7 1709.5,567.0C1712.8,558.3 1717.1,544.6 1721.5,532.0C1725.9,519.4 1731.4,505.0 1735.8,491.5C1740.2,478.0 1744.2,464.2 1747.9,451.0C1751.6,437.8 1754.4,425.5 1757.7,412.0C1761.0,398.5 1764.8,382.3 1768.0,370.0C1771.2,357.7 1773.1,356.3 1777.2,338.0C1781.3,319.7 1787.8,283.8 1792.5,260.0C1797.2,236.2 1800.5,218.2 1805.5,195.0C1810.5,171.8 1818.5,136.3 1822.5,121.0C1826.5,105.7 1827.8,106.8 1829.7,103.0C1831.7,99.2 1832.5,99.2 1834.2,98.0C1835.9,96.8 1837.9,95.5 1839.9,95.5C1841.9,95.5 1844.4,96.8 1846.2,98.0C1848.0,99.2 1848.9,99.2 1850.7,103.0C1852.5,106.8 1852.9,111.3 1857.2,121.0C1861.5,130.7 1870.4,147.8 1876.7,161.0C1882.9,174.2 1890.2,191.7 1894.7,200.0C1899.2,208.3 1900.5,208.2 1903.7,211.0C1906.9,213.8 1910.5,216.3 1913.7,217.0C1916.9,217.7 1919.7,215.6 1922.7,215.0C1925.7,214.4 1929.0,212.9 1931.7,213.2C1934.4,213.4 1936.2,214.5 1938.7,216.5C1941.2,218.5 1944.4,222.1 1946.7,225.0C1949.0,227.9 1949.9,227.8 1952.7,234.0C1955.5,240.2 1960.7,250.7 1963.7,262.0C1966.7,273.3 1968.6,289.2 1970.7,302.0C1972.8,314.8 1973.6,320.8 1976.2,339.0C1978.8,357.2 1981.9,385.6 1986.2,411.0C1990.5,436.4 1997.6,468.0 2002.2,491.5C2006.8,515.0 2010.7,538.2 2014.0,552.0C2017.2,565.8 2019.2,568.2 2021.7,574.5C2024.1,580.8 2026.0,586.3 2028.7,590.0C2031.4,593.7 2034.7,596.0 2037.7,596.5C2040.7,597.0 2043.9,595.1 2046.7,593.0C2049.5,590.9 2052.0,588.3 2054.7,584.0C2057.4,579.7 2059.4,575.7 2062.7,567.0C2066.0,558.3 2072.7,537.8 2074.7,532.0" transform="translate(0,0)" fill="none" stroke="#0000ff" stroke-width="3.8" stroke-opacity="1.0" stroke-linejoin="round"/><path d="M1015.1,532.0C1017.5,525.2 1025.0,505.0 1029.4,491.5C1033.8,478.0 1037.8,464.2 1041.5,451.0C1045.2,437.8 1048.0,425.5 1051.3,412.0C1054.6,398.5 1058.3,382.3 1061.6,370.0C1064.8,357.7 1066.7,356.3 1070.8,338.0C1074.9,319.7 1081.4,283.8 1086.1,260.0C1090.8,236.2 1094.1,218.2 1099.1,195.0C1104.1,171.8 1112.1,136.3 1116.1,121.0C1120.1,105.7 1121.3,106.8 1123.3,103.0C1125.2,99.2 1126.1,99.2 1127.8,98.0C1129.5,96.8 1131.5,95.5 1133.5,95.5C1135.5,95.5 1138.0,96.8 1139.8,98.0C1141.6,99.2 1142.5,99.2 1144.3,103.0C1146.1,106.8 1146.5,111.3 1150.8,121.0C1155.1,130.7 1164.0,147.8 1170.3,161.0C1176.5,174.2 1183.8,191.7 1188.3,200.0C1192.8,208.3 1194.1,208.2 1197.3,211.0C1200.5,213.8 1204.1,216.3 1207.3,217.0C1210.5,217.7 1213.3,215.6 1216.3,215.0C1219.3,214.4 1222.6,212.9 1225.3,213.2C1228.0,213.4 1229.8,214.5 1232.3,216.5C1234.8,218.5 1238.0,222.1 1240.3,225.0C1242.6,227.9 1243.5,227.8 1246.3,234.0C1249.1,240.2 1254.3,250.7 1257.3,262.0C1260.3,273.3 1262.2,289.2 1264.3,302.0C1266.4,314.8 1267.2,320.8 1269.8,339.0C1272.4,357.2 1275.5,385.6 1279.8,411.0C1284.1,436.4 1291.2,468.0 1295.8,491.5C1300.4,515.0 1304.3,538.2 1307.6,552.0C1310.8,565.8 1312.8,568.2 1315.3,574.5C1317.8,580.8 1319.6,586.3 1322.3,590.0C1325.0,593.7 1328.3,596.0 1331.3,596.5C1334.3,597.0 1337.5,595.1 1340.3,593.0C1343.1,590.9 1345.6,588.3 1348.3,584.0C1351.0,579.7 1353.0,575.7 1356.3,567.0C1359.6,558.3 1363.9,544.6 1368.3,532.0C1372.7,519.4 1378.2,505.0 1382.6,491.5C1387.0,478.0 1391.0,464.2 1394.7,451.0C1398.3,437.8 1401.2,425.5 1404.5,412.0C1407.8,398.5 1411.5,382.3 1414.8,370.0C1418.0,357.7 1419.9,356.3 1424.0,338.0C1428.1,319.7 1434.6,283.8 1439.3,260.0C1444.0,236.2 1447.3,218.2 1452.3,195.0C1457.3,171.8 1465.3,136.3 1469.3,121.0C1473.3,105.7 1474.5,106.8 1476.5,103.0C1478.5,99.2 1479.3,99.2 1481.0,98.0C1482.7,96.8 1484.7,95.5 1486.7,95.5C1488.7,95.5 1491.2,96.8 1493.0,98.0C1494.8,99.2 1495.7,99.2 1497.5,103.0C1499.3,106.8 1499.7,111.3 1504.0,121.0C1508.3,130.7 1517.2,147.8 1523.5,161.0C1529.8,174.2 1537.0,191.7 1541.5,200.0C1546.0,208.3 1547.3,208.2 1550.5,211.0C1553.7,213.8 1557.3,216.3 1560.5,217.0C1563.7,217.7 1566.5,215.6 1569.5,215.0C1572.5,214.4 1575.8,212.9 1578.5,213.2C1581.2,213.4 1583.0,214.5 1585.5,216.5C1588.0,218.5 1591.2,222.1 1593.5,225.0C1595.8,227.9 1596.7,227.8 1599.5,234.0C1602.3,240.2 1607.5,250.7 1610.5,262.0C1613.5,273.3 1615.4,289.2 1617.5,302.0C1619.6,314.8 1620.4,320.8 1623.0,339.0C1625.6,357.2 1628.7,385.6 1633.0,411.0C1637.3,436.4 1644.4,468.0 1649.0,491.5C1653.6,515.0 1657.5,538.2 1660.8,552.0C1664.0,565.8 1666.0,568.2 1668.5,574.5C1671.0,580.8 1672.8,586.3 1675.5,590.0C1678.2,593.7 1681.5,596.0 1684.5,596.5C1687.5,597.0 1690.7,595.1 1693.5,593.0C1696.3,590.9 1698.8,588.3 1701.5,584.0C1704.2,579.7 1706.2,575.7 1709.5,567.0C1712.8,558.3 1717.1,544.6 1721.5,532.0C1725.9,519.4 1731.4,505.0 1735.8,491.5C1740.2,478.0 1744.2,464.2 1747.9,451.0C1751.6,437.8 1754.4,425.5 1757.7,412.0C1761.0,398.5 1764.8,382.3 1768.0,370.0C1771.2,357.7 1773.1,356.3 1777.2,338.0C1781.3,319.7 1787.8,283.8 1792.5,260.0C1797.2,236.2 1800.5,218.2 1805.5,195.0C1810.5,171.8 1818.5,136.3 1822.5,121.0C1826.5,105.7 1827.8,106.8 1829.7,103.0C1831.7,99.2 1832.5,99.2 1834.2,98.0C1835.9,96.8 1837.9,95.5 1839.9,95.5C1841.9,95.5 1844.4,96.8 1846.2,98.0C1848.0,99.2 1848.9,99.2 1850.7,103.0C1852.5,106.8 1852.9,111.3 1857.2,121.0C1861.5,130.7 1870.4,147.8 1876.7,161.0C1882.9,174.2 1890.2,191.7 1894.7,200.0C1899.2,208.3 1900.5,208.2 1903.7,211.0C1906.9,213.8 1910.5,216.3 1913.7,217.0C1916.9,217.7 1919.7,215.6 1922.7,215.0C1925.7,214.4 1929.0,212.9 1931.7,213.2C1934.4,213.4 1936.2,214.5 1938.7,216.5C1941.2,218.5 1944.4,222.1 1946.7,225.0C1949.0,227.9 1949.9,227.8 1952.7,234.0C1955.5,240.2 1960.7,250.7 1963.7,262.0C1966.7,273.3 1968.6,289.2 1970.7,302.0C1972.8,314.8 1973.6,320.8 1976.2,339.0C1978.8,357.2 1981.9,385.6 1986.2,411.0C1990.5,436.4 1997.6,468.0 2002.2,491.5C2006.8,515.0 2010.7,538.2 2014.0,552.0C2017.2,565.8 2019.2,568.2 2021.7,574.5C2024.1,580.8 2026.0,586.3 2028.7,590.0C2031.4,593.7 2034.7,596.0 2037.7,596.5C2040.7,597.0 2043.9,595.1 2046.7,593.0C2049.5,590.9 2052.0,588.3 2054.7,584.0C2057.4,579.7 2059.4,575.7 2062.7,567.0C2066.0,558.3 2072.7,537.8 2074.7,532.0" transform="translate(0,2.3)" fill="none" stroke="#0000ff" stroke-width="3.8" stroke-opacity="1.0" stroke-linejoin="round"/><path d="M1015.1,532.0C1017.5,525.2 1025.0,505.0 1029.4,491.5C1033.8,478.0 1037.8,464.2 1041.5,451.0C1045.2,437.8 1048.0,425.5 1051.3,412.0C1054.6,398.5 1058.3,382.3 1061.6,370.0C1064.8,357.7 1066.7,356.3 1070.8,338.0C1074.9,319.7 1081.4,283.8 1086.1,260.0C1090.8,236.2 1094.1,218.2 1099.1,195.0C1104.1,171.8 1112.1,136.3 1116.1,121.0C1120.1,105.7 1121.3,106.8 1123.3,103.0C1125.2,99.2 1126.1,99.2 1127.8,98.0C1129.5,96.8 1131.5,95.5 1133.5,95.5C1135.5,95.5 1138.0,96.8 1139.8,98.0C1141.6,99.2 1142.5,99.2 1144.3,103.0C1146.1,106.8 1146.5,111.3 1150.8,121.0C1155.1,130.7 1164.0,147.8 1170.3,161.0C1176.5,174.2 1183.8,191.7 1188.3,200.0C1192.8,208.3 1194.1,208.2 1197.3,211.0C1200.5,213.8 1204.1,216.3 1207.3,217.0C1210.5,217.7 1213.3,215.6 1216.3,215.0C1219.3,214.4 1222.6,212.9 1225.3,213.2C1228.0,213.4 1229.8,214.5 1232.3,216.5C1234.8,218.5 1238.0,222.1 1240.3,225.0C1242.6,227.9 1243.5,227.8 1246.3,234.0C1249.1,240.2 1254.3,250.7 1257.3,262.0C1260.3,273.3 1262.2,289.2 1264.3,302.0C1266.4,314.8 1267.2,320.8 1269.8,339.0C1272.4,357.2 1275.5,385.6 1279.8,411.0C1284.1,436.4 1291.2,468.0 1295.8,491.5C1300.4,515.0 1304.3,538.2 1307.6,552.0C1310.8,565.8 1312.8,568.2 1315.3,574.5C1317.8,580.8 1319.6,586.3 1322.3,590.0C1325.0,593.7 1328.3,596.0 1331.3,596.5C1334.3,597.0 1337.5,595.1 1340.3,593.0C1343.1,590.9 1345.6,588.3 1348.3,584.0C1351.0,579.7 1353.0,575.7 1356.3,567.0C1359.6,558.3 1363.9,544.6 1368.3,532.0C1372.7,519.4 1378.2,505.0 1382.6,491.5C1387.0,478.0 1391.0,464.2 1394.7,451.0C1398.3,437.8 1401.2,425.5 1404.5,412.0C1407.8,398.5 1411.5,382.3 1414.8,370.0C1418.0,357.7 1419.9,356.3 1424.0,338.0C1428.1,319.7 1434.6,283.8 1439.3,260.0C1444.0,236.2 1447.3,218.2 1452.3,195.0C1457.3,171.8 1465.3,136.3 1469.3,121.0C1473.3,105.7 1474.5,106.8 1476.5,103.0C1478.5,99.2 1479.3,99.2 1481.0,98.0C1482.7,96.8 1484.7,95.5 1486.7,95.5C1488.7,95.5 1491.2,96.8 1493.0,98.0C1494.8,99.2 1495.7,99.2 1497.5,103.0C1499.3,106.8 1499.7,111.3 1504.0,121.0C1508.3,130.7 1517.2,147.8 1523.5,161.0C1529.8,174.2 1537.0,191.7 1541.5,200.0C1546.0,208.3 1547.3,208.2 1550.5,211.0C1553.7,213.8 1557.3,216.3 1560.5,217.0C1563.7,217.7 1566.5,215.6 1569.5,215.0C1572.5,214.4 1575.8,212.9 1578.5,213.2C1581.2,213.4 1583.0,214.5 1585.5,216.5C1588.0,218.5 1591.2,222.1 1593.5,225.0C1595.8,227.9 1596.7,227.8 1599.5,234.0C1602.3,240.2 1607.5,250.7 1610.5,262.0C1613.5,273.3 1615.4,289.2 1617.5,302.0C1619.6,314.8 1620.4,320.8 1623.0,339.0C1625.6,357.2 1628.7,385.6 1633.0,411.0C1637.3,436.4 1644.4,468.0 1649.0,491.5C1653.6,515.0 1657.5,538.2 1660.8,552.0C1664.0,565.8 1666.0,568.2 1668.5,574.5C1671.0,580.8 1672.8,586.3 1675.5,590.0C1678.2,593.7 1681.5,596.0 1684.5,596.5C1687.5,597.0 1690.7,595.1 1693.5,593.0C1696.3,590.9 1698.8,588.3 1701.5,584.0C1704.2,579.7 1706.2,575.7 1709.5,567.0C1712.8,558.3 1717.1,544.6 1721.5,532.0C1725.9,519.4 1731.4,505.0 1735.8,491.5C1740.2,478.0 1744.2,464.2 1747.9,451.0C1751.6,437.8 1754.4,425.5 1757.7,412.0C1761.0,398.5 1764.8,382.3 1768.0,370.0C1771.2,357.7 1773.1,356.3 1777.2,338.0C1781.3,319.7 1787.8,283.8 1792.5,260.0C1797.2,236.2 1800.5,218.2 1805.5,195.0C1810.5,171.8 1818.5,136.3 1822.5,121.0C1826.5,105.7 1827.8,106.8 1829.7,103.0C1831.7,99.2 1832.5,99.2 1834.2,98.0C1835.9,96.8 1837.9,95.5 1839.9,95.5C1841.9,95.5 1844.4,96.8 1846.2,98.0C1848.0,99.2 1848.9,99.2 1850.7,103.0C1852.5,106.8 1852.9,111.3 1857.2,121.0C1861.5,130.7 1870.4,147.8 1876.7,161.0C1882.9,174.2 1890.2,191.7 1894.7,200.0C1899.2,208.3 1900.5,208.2 1903.7,211.0C1906.9,213.8 1910.5,216.3 1913.7,217.0C1916.9,217.7 1919.7,215.6 1922.7,215.0C1925.7,214.4 1929.0,212.9 1931.7,213.2C1934.4,213.4 1936.2,214.5 1938.7,216.5C1941.2,218.5 1944.4,222.1 1946.7,225.0C1949.0,227.9 1949.9,227.8 1952.7,234.0C1955.5,240.2 1960.7,250.7 1963.7,262.0C1966.7,273.3 1968.6,289.2 1970.7,302.0C1972.8,314.8 1973.6,320.8 1976.2,339.0C1978.8,357.2 1981.9,385.6 1986.2,411.0C1990.5,436.4 1997.6,468.0 2002.2,491.5C2006.8,515.0 2010.7,538.2 2014.0,552.0C2017.2,565.8 2019.2,568.2 2021.7,574.5C2024.1,580.8 2026.0,586.3 2028.7,590.0C2031.4,593.7 2034.7,596.0 2037.7,596.5C2040.7,597.0 2043.9,595.1 2046.7,593.0C2049.5,590.9 2052.0,588.3 2054.7,584.0C2057.4,579.7 2059.4,575.7 2062.7,567.0C2066.0,558.3 2072.7,537.8 2074.7,532.0" transform="translate(0,4.0)" fill="none" stroke="#0000ff" stroke-width="3.8" stroke-opacity="0.4" stroke-linejoin="round"/>
</g></g>
<g><line x1="1165.20" y1="45.33" x2="1165.20" y2="645.90" stroke="#000" stroke-width="2.2" stroke-dasharray="1.7 13.680"/><line x1="1260.90" y1="45.33" x2="1260.90" y2="645.90" stroke="#000" stroke-width="2.2" stroke-dasharray="1.7 13.680"/><line x1="1356.60" y1="45.33" x2="1356.60" y2="645.90" stroke="#000" stroke-width="2.2" stroke-dasharray="1.7 13.680"/><line x1="1452.30" y1="45.33" x2="1452.30" y2="645.90" stroke="#000" stroke-width="2.2" stroke-dasharray="1.7 13.680"/><line x1="1643.70" y1="45.33" x2="1643.70" y2="645.90" stroke="#000" stroke-width="2.2" stroke-dasharray="1.7 13.680"/><line x1="1739.40" y1="45.33" x2="1739.40" y2="645.90" stroke="#000" stroke-width="2.2" stroke-dasharray="1.7 13.680"/><line x1="1835.10" y1="45.33" x2="1835.10" y2="645.90" stroke="#000" stroke-width="2.2" stroke-dasharray="1.7 13.680"/><line x1="1930.80" y1="45.33" x2="1930.80" y2="645.90" stroke="#000" stroke-width="2.2" stroke-dasharray="1.7 13.680"/><line x1="1087.64" y1="107.60" x2="2026.50" y2="107.60" stroke="#000" stroke-width="1.8" stroke-dasharray="2.2 16.940"/><line x1="1087.64" y1="184.50" x2="2026.50" y2="184.50" stroke="#000" stroke-width="1.8" stroke-dasharray="2.2 16.940"/><line x1="1087.64" y1="261.40" x2="2026.50" y2="261.40" stroke="#000" stroke-width="1.8" stroke-dasharray="2.2 16.940"/><line x1="1087.64" y1="415.20" x2="2026.50" y2="415.20" stroke="#000" stroke-width="1.8" stroke-dasharray="2.2 16.940"/><line x1="1087.64" y1="492.10" x2="2026.50" y2="492.10" stroke="#000" stroke-width="1.8" stroke-dasharray="2.2 16.940"/><line x1="1087.64" y1="569.00" x2="2026.50" y2="569.00" stroke="#000" stroke-width="1.8" stroke-dasharray="2.2 16.940"/><line x1="1068.50" y1="338.30" x2="2026.50" y2="338.30" stroke="#000" stroke-width="1.8" stroke-dasharray="2.2 1.628"/><line x1="1548.00" y1="29.95" x2="1548.00" y2="645.90" stroke="#000" stroke-width="2.2" stroke-dasharray="1.7 1.376"/><line x1="1067.00" y1="29.20" x2="2027.90" y2="29.20" stroke="#000" stroke-width="1.8" stroke-dasharray="2.2 1.628"/><line x1="1067.00" y1="647.30" x2="2027.90" y2="647.30" stroke="#000" stroke-width="1.8" stroke-dasharray="2.2 1.628"/><line x1="1068.00" y1="28.45" x2="1068.00" y2="648.30" stroke="#000" stroke-width="2.2" stroke-dasharray="1.7 1.376"/><line x1="2026.90" y1="28.45" x2="2026.90" y2="648.30" stroke="#000" stroke-width="2.2" stroke-dasharray="1.7 1.376"/></g>
<g fill="#000"><rect x="1087.69" y="29.20" width="1.9" height="3"/><rect x="1087.69" y="33.20" width="1.9" height="1.6"/><rect x="1087.69" y="644.30" width="1.9" height="3"/><rect x="1087.69" y="641.70" width="1.9" height="1.6"/><rect x="1087.69" y="335.80" width="1.9" height="5"/><rect x="1087.69" y="332.70" width="1.9" height="1.6"/><rect x="1087.69" y="342.30" width="1.9" height="1.6"/><rect x="1106.83" y="29.20" width="1.9" height="3"/><rect x="1106.83" y="33.20" width="1.9" height="1.6"/><rect x="1106.83" y="644.30" width="1.9" height="3"/><rect x="1106.83" y="641.70" width="1.9" height="1.6"/><rect x="1106.83" y="335.80" width="1.9" height="5"/><rect x="1106.83" y="332.70" width="1.9" height="1.6"/><rect x="1106.83" y="342.30" width="1.9" height="1.6"/><rect x="1125.97" y="29.20" width="1.9" height="3"/><rect x="1125.97" y="33.20" width="1.9" height="1.6"/><rect x="1125.97" y="644.30" width="1.9" height="3"/><rect x="1125.97" y="641.70" width="1.9" height="1.6"/><rect x="1125.97" y="335.80" width="1.9" height="5"/><rect x="1125.97" y="332.70" width="1.9" height="1.6"/><rect x="1125.97" y="342.30" width="1.9" height="1.6"/><rect x="1145.11" y="29.20" width="1.9" height="3"/><rect x="1145.11" y="33.20" width="1.9" height="1.6"/><rect x="1145.11" y="644.30" width="1.9" height="3"/><rect x="1145.11" y="641.70" width="1.9" height="1.6"/><rect x="1145.11" y="335.80" width="1.9" height="5"/><rect x="1145.11" y="332.70" width="1.9" height="1.6"/><rect x="1145.11" y="342.30" width="1.9" height="1.6"/><rect x="1164.25" y="29.20" width="1.9" height="3"/><rect x="1164.25" y="33.20" width="1.9" height="1.6"/><rect x="1164.25" y="644.30" width="1.9" height="3"/><rect x="1164.25" y="641.70" width="1.9" height="1.6"/><rect x="1164.25" y="335.80" width="1.9" height="5"/><rect x="1164.25" y="332.70" width="1.9" height="1.6"/><rect x="1164.25" y="342.30" width="1.9" height="1.6"/><rect x="1183.39" y="29.20" width="1.9" height="3"/><rect x="1183.39" y="33.20" width="1.9" height="1.6"/><rect x="1183.39" y="644.30" width="1.9" height="3"/><rect x="1183.39" y="641.70" width="1.9" height="1.6"/><rect x="1183.39" y="335.80" width="1.9" height="5"/><rect x="1183.39" y="332.70" width="1.9" height="1.6"/><rect x="1183.39" y="342.30" width="1.9" height="1.6"/><rect x="1202.53" y="29.20" width="1.9" height="3"/><rect x="1202.53" y="33.20" width="1.9" height="1.6"/><rect x="1202.53" y="644.30" width="1.9" height="3"/><rect x="1202.53" y="641.70" width="1.9" height="1.6"/><rect x="1202.53" y="335.80" width="1.9" height="5"/><rect x="1202.53" y="332.70" width="1.9" height="1.6"/><rect x="1202.53" y="342.30" width="1.9" height="1.6"/><rect x="1221.67" y="29.20" width="1.9" height="3"/><rect x="1221.67" y="33.20" width="1.9" height="1.6"/><rect x="1221.67" y="644.30" width="1.9" height="3"/><rect x="1221.67" y="641.70" width="1.9" height="1.6"/><rect x="1221.67" y="335.80" width="1.9" height="5"/><rect x="1221.67" y="332.70" width="1.9" height="1.6"/><rect x="1221.67" y="342.30" width="1.9" height="1.6"/><rect x="1240.81" y="29.20" width="1.9" height="3"/><rect x="1240.81" y="33.20" width="1.9" height="1.6"/><rect x="1240.81" y="644.30" width="1.9" height="3"/><rect x="1240.81" y="641.70" width="1.9" height="1.6"/><rect x="1240.81" y="335.80" width="1.9" height="5"/><rect x="1240.81" y="332.70" width="1.9" height="1.6"/><rect x="1240.81" y="342.30" width="1.9" height="1.6"/><rect x="1259.95" y="29.20" width="1.9" height="3"/><rect x="1259.95" y="33.20" width="1.9" height="1.6"/><rect x="1259.95" y="644.30" width="1.9" height="3"/><rect x="1259.95" y="641.70" width="1.9" height="1.6"/><rect x="1259.95" y="335.80" width="1.9" height="5"/><rect x="1259.95" y="332.70" width="1.9" height="1.6"/><rect x="1259.95" y="342.30" width="1.9" height="1.6"/><rect x="1279.09" y="29.20" width="1.9" height="3"/><rect x="1279.09" y="33.20" width="1.9" height="1.6"/><rect x="1279.09" y="644.30" width="1.9" height="3"/><rect x="1279.09" y="641.70" width="1.9" height="1.6"/><rect x="1279.09" y="335.80" width="1.9" height="5"/><rect x="1279.09" y="332.70" width="1.9" height="1.6"/><rect x="1279.09" y="342.30" width="1.9" height="1.6"/><rect x="1298.23" y="29.20" width="1.9" height="3"/><rect x="1298.23" y="33.20" width="1.9" height="1.6"/><rect x="1298.23" y="644.30" width="1.9" height="3"/><rect x="1298.23" y="641.70" width="1.9" height="1.6"/><rect x="1298.23" y="335.80" width="1.9" height="5"/><rect x="1298.23" y="332.70" width="1.9" height="1.6"/><rect x="1298.23" y="342.30" width="1.9" height="1.6"/><rect x="1317.37" y="29.20" width="1.9" height="3"/><rect x="1317.37" y="33.20" width="1.9" height="1.6"/><rect x="1317.37" y="644.30" width="1.9" height="3"/><rect x="1317.37" y="641.70" width="1.9" height="1.6"/><rect x="1317.37" y="335.80" width="1.9" height="5"/><rect x="1317.37" y="332.70" width="1.9" height="1.6"/><rect x="1317.37" y="342.30" width="1.9" height="1.6"/><rect x="1336.51" y="29.20" width="1.9" height="3"/><rect x="1336.51" y="33.20" width="1.9" height="1.6"/><rect x="1336.51" y="644.30" width="1.9" height="3"/><rect x="1336.51" y="641.70" width="1.9" height="1.6"/><rect x="1336.51" y="335.80" width="1.9" height="5"/><rect x="1336.51" y="332.70" width="1.9" height="1.6"/><rect x="1336.51" y="342.30" width="1.9" height="1.6"/><rect x="1355.65" y="29.20" width="1.9" height="3"/><rect x="1355.65" y="33.20" width="1.9" height="1.6"/><rect x="1355.65" y="644.30" width="1.9" height="3"/><rect x="1355.65" y="641.70" width="1.9" height="1.6"/><rect x="1355.65" y="335.80" width="1.9" height="5"/><rect x="1355.65" y="332.70" width="1.9" height="1.6"/><rect x="1355.65" y="342.30" width="1.9" height="1.6"/><rect x="1374.79" y="29.20" width="1.9" height="3"/><rect x="1374.79" y="33.20" width="1.9" height="1.6"/><rect x="1374.79" y="644.30" width="1.9" height="3"/><rect x="1374.79" y="641.70" width="1.9" height="1.6"/><rect x="1374.79" y="335.80" width="1.9" height="5"/><rect x="1374.79" y="332.70" width="1.9" height="1.6"/><rect x="1374.79" y="342.30" width="1.9" height="1.6"/><rect x="1393.93" y="29.20" width="1.9" height="3"/><rect x="1393.93" y="33.20" width="1.9" height="1.6"/><rect x="1393.93" y="644.30" width="1.9" height="3"/><rect x="1393.93" y="641.70" width="1.9" height="1.6"/><rect x="1393.93" y="335.80" width="1.9" height="5"/><rect x="1393.93" y="332.70" width="1.9" height="1.6"/><rect x="1393.93" y="342.30" width="1.9" height="1.6"/><rect x="1413.07" y="29.20" width="1.9" height="3"/><rect x="1413.07" y="33.20" width="1.9" height="1.6"/><rect x="1413.07" y="644.30" width="1.9" height="3"/><rect x="1413.07" y="641.70" width="1.9" height="1.6"/><rect x="1413.07" y="335.80" width="1.9" height="5"/><rect x="1413.07" y="332.70" width="1.9" height="1.6"/><rect x="1413.07" y="342.30" width="1.9" height="1.6"/><rect x="1432.21" y="29.20" width="1.9" height="3"/><rect x="1432.21" y="33.20" width="1.9" height="1.6"/><rect x="1432.21" y="644.30" width="1.9" height="3"/><rect x="1432.21" y="641.70" width="1.9" height="1.6"/><rect x="1432.21" y="335.80" width="1.9" height="5"/><rect x="1432.21" y="332.70" width="1.9" height="1.6"/><rect x="1432.21" y="342.30" width="1.9" height="1.6"/><rect x="1451.35" y="29.20" width="1.9" height="3"/><rect x="1451.35" y="33.20" width="1.9" height="1.6"/><rect x="1451.35" y="644.30" width="1.9" height="3"/><rect x="1451.35" y="641.70" width="1.9" height="1.6"/><rect x="1451.35" y="335.80" width="1.9" height="5"/><rect x="1451.35" y="332.70" width="1.9" height="1.6"/><rect x="1451.35" y="342.30" width="1.9" height="1.6"/><rect x="1470.49" y="29.20" width="1.9" height="3"/><rect x="1470.49" y="33.20" width="1.9" height="1.6"/><rect x="1470.49" y="644.30" width="1.9" height="3"/><rect x="1470.49" y="641.70" width="1.9" height="1.6"/><rect x="1470.49" y="335.80" width="1.9" height="5"/><rect x="1470.49" y="332.70" width="1.9" height="1.6"/><rect x="1470.49" y="342.30" width="1.9" height="1.6"/><rect x="1489.63" y="29.20" width="1.9" height="3"/><rect x="1489.63" y="33.20" width="1.9" height="1.6"/><rect x="1489.63" y="644.30" width="1.9" height="3"/><rect x="1489.63" y="641.70" width="1.9" height="1.6"/><rect x="1489.63" y="335.80" width="1.9" height="5"/><rect x="1489.63" y="332.70" width="1.9" height="1.6"/><rect x="1489.63" y="342.30" width="1.9" height="1.6"/><rect x="1508.77" y="29.20" width="1.9" height="3"/><rect x="1508.77" y="33.20" width="1.9" height="1.6"/><rect x="1508.77" y="644.30" width="1.9" height="3"/><rect x="1508.77" y="641.70" width="1.9" height="1.6"/><rect x="1508.77" y="335.80" width="1.9" height="5"/><rect x="1508.77" y="332.70" width="1.9" height="1.6"/><rect x="1508.77" y="342.30" width="1.9" height="1.6"/><rect x="1527.91" y="29.20" width="1.9" height="3"/><rect x="1527.91" y="33.20" width="1.9" height="1.6"/><rect x="1527.91" y="644.30" width="1.9" height="3"/><rect x="1527.91" y="641.70" width="1.9" height="1.6"/><rect x="1527.91" y="335.80" width="1.9" height="5"/><rect x="1527.91" y="332.70" width="1.9" height="1.6"/><rect x="1527.91" y="342.30" width="1.9" height="1.6"/><rect x="1566.19" y="29.20" width="1.9" height="3"/><rect x="1566.19" y="33.20" width="1.9" height="1.6"/><rect x="1566.19" y="644.30" width="1.9" height="3"/><rect x="1566.19" y="641.70" width="1.9" height="1.6"/><rect x="1566.19" y="335.80" width="1.9" height="5"/><rect x="1566.19" y="332.70" width="1.9" height="1.6"/><rect x="1566.19" y="342.30" width="1.9" height="1.6"/><rect x="1585.33" y="29.20" width="1.9" height="3"/><rect x="1585.33" y="33.20" width="1.9" height="1.6"/><rect x="1585.33" y="644.30" width="1.9" height="3"/><rect x="1585.33" y="641.70" width="1.9" height="1.6"/><rect x="1585.33" y="335.80" width="1.9" height="5"/><rect x="1585.33" y="332.70" width="1.9" height="1.6"/><rect x="1585.33" y="342.30" width="1.9" height="1.6"/><rect x="1604.47" y="29.20" width="1.9" height="3"/><rect x="1604.47" y="33.20" width="1.9" height="1.6"/><rect x="1604.47" y="644.30" width="1.9" height="3"/><rect x="1604.47" y="641.70" width="1.9" height="1.6"/><rect x="1604.47" y="335.80" width="1.9" height="5"/><rect x="1604.47" y="332.70" width="1.9" height="1.6"/><rect x="1604.47" y="342.30" width="1.9" height="1.6"/><rect x="1623.61" y="29.20" width="1.9" height="3"/><rect x="1623.61" y="33.20" width="1.9" height="1.6"/><rect x="1623.61" y="644.30" width="1.9" height="3"/><rect x="1623.61" y="641.70" width="1.9" height="1.6"/><rect x="1623.61" y="335.80" width="1.9" height="5"/><rect x="1623.61" y="332.70" width="1.9" height="1.6"/><rect x="1623.61" y="342.30" width="1.9" height="1.6"/><rect x="1642.75" y="29.20" width="1.9" height="3"/><rect x="1642.75" y="33.20" width="1.9" height="1.6"/><rect x="1642.75" y="644.30" width="1.9" height="3"/><rect x="1642.75" y="641.70" width="1.9" height="1.6"/><rect x="1642.75" y="335.80" width="1.9" height="5"/><rect x="1642.75" y="332.70" width="1.9" height="1.6"/><rect x="1642.75" y="342.30" width="1.9" height="1.6"/><rect x="1661.89" y="29.20" width="1.9" height="3"/><rect x="1661.89" y="33.20" width="1.9" height="1.6"/><rect x="1661.89" y="644.30" width="1.9" height="3"/><rect x="1661.89" y="641.70" width="1.9" height="1.6"/><rect x="1661.89" y="335.80" width="1.9" height="5"/><rect x="1661.89" y="332.70" width="1.9" height="1.6"/><rect x="1661.89" y="342.30" width="1.9" height="1.6"/><rect x="1681.03" y="29.20" width="1.9" height="3"/><rect x="1681.03" y="33.20" width="1.9" height="1.6"/><rect x="1681.03" y="644.30" width="1.9" height="3"/><rect x="1681.03" y="641.70" width="1.9" height="1.6"/><rect x="1681.03" y="335.80" width="1.9" height="5"/><rect x="1681.03" y="332.70" width="1.9" height="1.6"/><rect x="1681.03" y="342.30" width="1.9" height="1.6"/><rect x="1700.17" y="29.20" width="1.9" height="3"/><rect x="1700.17" y="33.20" width="1.9" height="1.6"/><rect x="1700.17" y="644.30" width="1.9" height="3"/><rect x="1700.17" y="641.70" width="1.9" height="1.6"/><rect x="1700.17" y="335.80" width="1.9" height="5"/><rect x="1700.17" y="332.70" width="1.9" height="1.6"/><rect x="1700.17" y="342.30" width="1.9" height="1.6"/><rect x="1719.31" y="29.20" width="1.9" height="3"/><rect x="1719.31" y="33.20" width="1.9" height="1.6"/><rect x="1719.31" y="644.30" width="1.9" height="3"/><rect x="1719.31" y="641.70" width="1.9" height="1.6"/><rect x="1719.31" y="335.80" width="1.9" height="5"/><rect x="1719.31" y="332.70" width="1.9" height="1.6"/><rect x="1719.31" y="342.30" width="1.9" height="1.6"/><rect x="1738.45" y="29.20" width="1.9" height="3"/><rect x="1738.45" y="33.20" width="1.9" height="1.6"/><rect x="1738.45" y="644.30" width="1.9" height="3"/><rect x="1738.45" y="641.70" width="1.9" height="1.6"/><rect x="1738.45" y="335.80" width="1.9" height="5"/><rect x="1738.45" y="332.70" width="1.9" height="1.6"/><rect x="1738.45" y="342.30" width="1.9" height="1.6"/><rect x="1757.59" y="29.20" width="1.9" height="3"/><rect x="1757.59" y="33.20" width="1.9" height="1.6"/><rect x="1757.59" y="644.30" width="1.9" height="3"/><rect x="1757.59" y="641.70" width="1.9" height="1.6"/><rect x="1757.59" y="335.80" width="1.9" height="5"/><rect x="1757.59" y="332.70" width="1.9" height="1.6"/><rect x="1757.59" y="342.30" width="1.9" height="1.6"/><rect x="1776.73" y="29.20" width="1.9" height="3"/><rect x="1776.73" y="33.20" width="1.9" height="1.6"/><rect x="1776.73" y="644.30" width="1.9" height="3"/><rect x="1776.73" y="641.70" width="1.9" height="1.6"/><rect x="1776.73" y="335.80" width="1.9" height="5"/><rect x="1776.73" y="332.70" width="1.9" height="1.6"/><rect x="1776.73" y="342.30" width="1.9" height="1.6"/><rect x="1795.87" y="29.20" width="1.9" height="3"/><rect x="1795.87" y="33.20" width="1.9" height="1.6"/><rect x="1795.87" y="644.30" width="1.9" height="3"/><rect x="1795.87" y="641.70" width="1.9" height="1.6"/><rect x="1795.87" y="335.80" width="1.9" height="5"/><rect x="1795.87" y="332.70" width="1.9" height="1.6"/><rect x="1795.87" y="342.30" width="1.9" height="1.6"/><rect x="1815.01" y="29.20" width="1.9" height="3"/><rect x="1815.01" y="33.20" width="1.9" height="1.6"/><rect x="1815.01" y="644.30" width="1.9" height="3"/><rect x="1815.01" y="641.70" width="1.9" height="1.6"/><rect x="1815.01" y="335.80" width="1.9" height="5"/><rect x="1815.01" y="332.70" width="1.9" height="1.6"/><rect x="1815.01" y="342.30" width="1.9" height="1.6"/><rect x="1834.15" y="29.20" width="1.9" height="3"/><rect x="1834.15" y="33.20" width="1.9" height="1.6"/><rect x="1834.15" y="644.30" width="1.9" height="3"/><rect x="1834.15" y="641.70" width="1.9" height="1.6"/><rect x="1834.15" y="335.80" width="1.9" height="5"/><rect x="1834.15" y="332.70" width="1.9" height="1.6"/><rect x="1834.15" y="342.30" width="1.9" height="1.6"/><rect x="1853.29" y="29.20" width="1.9" height="3"/><rect x="1853.29" y="33.20" width="1.9" height="1.6"/><rect x="1853.29" y="644.30" width="1.9" height="3"/><rect x="1853.29" y="641.70" width="1.9" height="1.6"/><rect x="1853.29" y="335.80" width="1.9" height="5"/><rect x="1853.29" y="332.70" width="1.9" height="1.6"/><rect x="1853.29" y="342.30" width="1.9" height="1.6"/><rect x="1872.43" y="29.20" width="1.9" height="3"/><rect x="1872.43" y="33.20" width="1.9" height="1.6"/><rect x="1872.43" y="644.30" width="1.9" height="3"/><rect x="1872.43" y="641.70" width="1.9" height="1.6"/><rect x="1872.43" y="335.80" width="1.9" height="5"/><rect x="1872.43" y="332.70" width="1.9" height="1.6"/><rect x="1872.43" y="342.30" width="1.9" height="1.6"/><rect x="1891.57" y="29.20" width="1.9" height="3"/><rect x="1891.57" y="33.20" width="1.9" height="1.6"/><rect x="1891.57" y="644.30" width="1.9" height="3"/><rect x="1891.57" y="641.70" width="1.9" height="1.6"/><rect x="1891.57" y="335.80" width="1.9" height="5"/><rect x="1891.57" y="332.70" width="1.9" height="1.6"/><rect x="1891.57" y="342.30" width="1.9" height="1.6"/><rect x="1910.71" y="29.20" width="1.9" height="3"/><rect x="1910.71" y="33.20" width="1.9" height="1.6"/><rect x="1910.71" y="644.30" width="1.9" height="3"/><rect x="1910.71" y="641.70" width="1.9" height="1.6"/><rect x="1910.71" y="335.80" width="1.9" height="5"/><rect x="1910.71" y="332.70" width="1.9" height="1.6"/><rect x="1910.71" y="342.30" width="1.9" height="1.6"/><rect x="1929.85" y="29.20" width="1.9" height="3"/><rect x="1929.85" y="33.20" width="1.9" height="1.6"/><rect x="1929.85" y="644.30" width="1.9" height="3"/><rect x="1929.85" y="641.70" width="1.9" height="1.6"/><rect x="1929.85" y="335.80" width="1.9" height="5"/><rect x="1929.85" y="332.70" width="1.9" height="1.6"/><rect x="1929.85" y="342.30" width="1.9" height="1.6"/><rect x="1948.99" y="29.20" width="1.9" height="3"/><rect x="1948.99" y="33.20" width="1.9" height="1.6"/><rect x="1948.99" y="644.30" width="1.9" height="3"/><rect x="1948.99" y="641.70" width="1.9" height="1.6"/><rect x="1948.99" y="335.80" width="1.9" height="5"/><rect x="1948.99" y="332.70" width="1.9" height="1.6"/><rect x="1948.99" y="342.30" width="1.9" height="1.6"/><rect x="1968.13" y="29.20" width="1.9" height="3"/><rect x="1968.13" y="33.20" width="1.9" height="1.6"/><rect x="1968.13" y="644.30" width="1.9" height="3"/><rect x="1968.13" y="641.70" width="1.9" height="1.6"/><rect x="1968.13" y="335.80" width="1.9" height="5"/><rect x="1968.13" y="332.70" width="1.9" height="1.6"/><rect x="1968.13" y="342.30" width="1.9" height="1.6"/><rect x="1987.27" y="29.20" width="1.9" height="3"/><rect x="1987.27" y="33.20" width="1.9" height="1.6"/><rect x="1987.27" y="644.30" width="1.9" height="3"/><rect x="1987.27" y="641.70" width="1.9" height="1.6"/><rect x="1987.27" y="335.80" width="1.9" height="5"/><rect x="1987.27" y="332.70" width="1.9" height="1.6"/><rect x="1987.27" y="342.30" width="1.9" height="1.6"/><rect x="2006.41" y="29.20" width="1.9" height="3"/><rect x="2006.41" y="33.20" width="1.9" height="1.6"/><rect x="2006.41" y="644.30" width="1.9" height="3"/><rect x="2006.41" y="641.70" width="1.9" height="1.6"/><rect x="2006.41" y="335.80" width="1.9" height="5"/><rect x="2006.41" y="332.70" width="1.9" height="1.6"/><rect x="2006.41" y="342.30" width="1.9" height="1.6"/><rect x="1068.00" y="45.33" width="3.2" height="1.5"/><rect x="1073.00" y="45.33" width="2" height="1.5"/><rect x="2023.70" y="45.33" width="3.2" height="1.5"/><rect x="2019.90" y="45.33" width="2" height="1.5"/><rect x="1544.80" y="45.33" width="6.4" height="1.5"/><rect x="1540.80" y="45.33" width="2" height="1.5"/><rect x="1553.20" y="45.33" width="2" height="1.5"/><rect x="1068.00" y="60.71" width="3.2" height="1.5"/><rect x="1073.00" y="60.71" width="2" height="1.5"/><rect x="2023.70" y="60.71" width="3.2" height="1.5"/><rect x="2019.90" y="60.71" width="2" height="1.5"/><rect x="1544.80" y="60.71" width="6.4" height="1.5"/><rect x="1540.80" y="60.71" width="2" height="1.5"/><rect x="1553.20" y="60.71" width="2" height="1.5"/><rect x="1068.00" y="76.09" width="3.2" height="1.5"/><rect x="1073.00" y="76.09" width="2" height="1.5"/><rect x="2023.70" y="76.09" width="3.2" height="1.5"/><rect x="2019.90" y="76.09" width="2" height="1.5"/><rect x="1544.80" y="76.09" width="6.4" height="1.5"/><rect x="1540.80" y="76.09" width="2" height="1.5"/><rect x="1553.20" y="76.09" width="2" height="1.5"/><rect x="1068.00" y="91.47" width="3.2" height="1.5"/><rect x="1073.00" y="91.47" width="2" height="1.5"/><rect x="2023.70" y="91.47" width="3.2" height="1.5"/><rect x="2019.90" y="91.47" width="2" height="1.5"/><rect x="1544.80" y="91.47" width="6.4" height="1.5"/><rect x="1540.80" y="91.47" width="2" height="1.5"/><rect x="1553.20" y="91.47" width="2" height="1.5"/><rect x="1068.00" y="106.85" width="3.2" height="1.5"/><rect x="1073.00" y="106.85" width="2" height="1.5"/><rect x="2023.70" y="106.85" width="3.2" height="1.5"/><rect x="2019.90" y="106.85" width="2" height="1.5"/><rect x="1544.80" y="106.85" width="6.4" height="1.5"/><rect x="1540.80" y="106.85" width="2" height="1.5"/><rect x="1553.20" y="106.85" width="2" height="1.5"/><rect x="1068.00" y="122.23" width="3.2" height="1.5"/><rect x="1073.00" y="122.23" width="2" height="1.5"/><rect x="2023.70" y="122.23" width="3.2" height="1.5"/><rect x="2019.90" y="122.23" width="2" height="1.5"/><rect x="1544.80" y="122.23" width="6.4" height="1.5"/><rect x="1540.80" y="122.23" width="2" height="1.5"/><rect x="1553.20" y="122.23" width="2" height="1.5"/><rect x="1068.00" y="137.61" width="3.2" height="1.5"/><rect x="1073.00" y="137.61" width="2" height="1.5"/><rect x="2023.70" y="137.61" width="3.2" height="1.5"/><rect x="2019.90" y="137.61" width="2" height="1.5"/><rect x="1544.80" y="137.61" width="6.4" height="1.5"/><rect x="1540.80" y="137.61" width="2" height="1.5"/><rect x="1553.20" y="137.61" width="2" height="1.5"/><rect x="1068.00" y="152.99" width="3.2" height="1.5"/><rect x="1073.00" y="152.99" width="2" height="1.5"/><rect x="2023.70" y="152.99" width="3.2" height="1.5"/><rect x="2019.90" y="152.99" width="2" height="1.5"/><rect x="1544.80" y="152.99" width="6.4" height="1.5"/><rect x="1540.80" y="152.99" width="2" height="1.5"/><rect x="1553.20" y="152.99" width="2" height="1.5"/><rect x="1068.00" y="168.37" width="3.2" height="1.5"/><rect x="1073.00" y="168.37" width="2" height="1.5"/><rect x="2023.70" y="168.37" width="3.2" height="1.5"/><rect x="2019.90" y="168.37" width="2" height="1.5"/><rect x="1544.80" y="168.37" width="6.4" height="1.5"/><rect x="1540.80" y="168.37" width="2" height="1.5"/><rect x="1553.20" y="168.37" width="2" height="1.5"/><rect x="1068.00" y="183.75" width="3.2" height="1.5"/><rect x="1073.00" y="183.75" width="2" height="1.5"/><rect x="2023.70" y="183.75" width="3.2" height="1.5"/><rect x="2019.90" y="183.75" width="2" height="1.5"/><rect x="1544.80" y="183.75" width="6.4" height="1.5"/><rect x="1540.80" y="183.75" width="2" height="1.5"/><rect x="1553.20" y="183.75" width="2" height="1.5"/><rect x="1068.00" y="199.13" width="3.2" height="1.5"/><rect x="1073.00" y="199.13" width="2" height="1.5"/><rect x="2023.70" y="199.13" width="3.2" height="1.5"/><rect x="2019.90" y="199.13" width="2" height="1.5"/><rect x="1544.80" y="199.13" width="6.4" height="1.5"/><rect x="1540.80" y="199.13" width="2" height="1.5"/><rect x="1553.20" y="199.13" width="2" height="1.5"/><rect x="1068.00" y="214.51" width="3.2" height="1.5"/><rect x="1073.00" y="214.51" width="2" height="1.5"/><rect x="2023.70" y="214.51" width="3.2" height="1.5"/><rect x="2019.90" y="214.51" width="2" height="1.5"/><rect x="1544.80" y="214.51" width="6.4" height="1.5"/><rect x="1540.80" y="214.51" width="2" height="1.5"/><rect x="1553.20" y="214.51" width="2" height="1.5"/><rect x="1068.00" y="229.89" width="3.2" height="1.5"/><rect x="1073.00" y="229.89" width="2" height="1.5"/><rect x="2023.70" y="229.89" width="3.2" height="1.5"/><rect x="2019.90" y="229.89" width="2" height="1.5"/><rect x="1544.80" y="229.89" width="6.4" height="1.5"/><rect x="1540.80" y="229.89" width="2" height="1.5"/><rect x="1553.20" y="229.89" width="2" height="1.5"/><rect x="1068.00" y="245.27" width="3.2" height="1.5"/><rect x="1073.00" y="245.27" width="2" height="1.5"/><rect x="2023.70" y="245.27" width="3.2" height="1.5"/><rect x="2019.90" y="245.27" width="2" height="1.5"/><rect x="1544.80" y="245.27" width="6.4" height="1.5"/><rect x="1540.80" y="245.27" width="2" height="1.5"/><rect x="1553.20" y="245.27" width="2" height="1.5"/><rect x="1068.00" y="260.65" width="3.2" height="1.5"/><rect x="1073.00" y="260.65" width="2" height="1.5"/><rect x="2023.70" y="260.65" width="3.2" height="1.5"/><rect x="2019.90" y="260.65" width="2" height="1.5"/><rect x="1544.80" y="260.65" width="6.4" height="1.5"/><rect x="1540.80" y="260.65" width="2" height="1.5"/><rect x="1553.20" y="260.65" width="2" height="1.5"/><rect x="1068.00" y="276.03" width="3.2" height="1.5"/><rect x="1073.00" y="276.03" width="2" height="1.5"/><rect x="2023.70" y="276.03" width="3.2" height="1.5"/><rect x="2019.90" y="276.03" width="2" height="1.5"/><rect x="1544.80" y="276.03" width="6.4" height="1.5"/><rect x="1540.80" y="276.03" width="2" height="1.5"/><rect x="1553.20" y="276.03" width="2" height="1.5"/><rect x="1068.00" y="291.41" width="3.2" height="1.5"/><rect x="1073.00" y="291.41" width="2" height="1.5"/><rect x="2023.70" y="291.41" width="3.2" height="1.5"/><rect x="2019.90" y="291.41" width="2" height="1.5"/><rect x="1544.80" y="291.41" width="6.4" height="1.5"/><rect x="1540.80" y="291.41" width="2" height="1.5"/><rect x="1553.20" y="291.41" width="2" height="1.5"/><rect x="1068.00" y="306.79" width="3.2" height="1.5"/><rect x="1073.00" y="306.79" width="2" height="1.5"/><rect x="2023.70" y="306.79" width="3.2" height="1.5"/><rect x="2019.90" y="306.79" width="2" height="1.5"/><rect x="1544.80" y="306.79" width="6.4" height="1.5"/><rect x="1540.80" y="306.79" width="2" height="1.5"/><rect x="1553.20" y="306.79" width="2" height="1.5"/><rect x="1068.00" y="322.17" width="3.2" height="1.5"/><rect x="1073.00" y="322.17" width="2" height="1.5"/><rect x="2023.70" y="322.17" width="3.2" height="1.5"/><rect x="2019.90" y="322.17" width="2" height="1.5"/><rect x="1544.80" y="322.17" width="6.4" height="1.5"/><rect x="1540.80" y="322.17" width="2" height="1.5"/><rect x="1553.20" y="322.17" width="2" height="1.5"/><rect x="1068.00" y="352.93" width="3.2" height="1.5"/><rect x="1073.00" y="352.93" width="2" height="1.5"/><rect x="2023.70" y="352.93" width="3.2" height="1.5"/><rect x="2019.90" y="352.93" width="2" height="1.5"/><rect x="1544.80" y="352.93" width="6.4" height="1.5"/><rect x="1540.80" y="352.93" width="2" height="1.5"/><rect x="1553.20" y="352.93" width="2" height="1.5"/><rect x="1068.00" y="368.31" width="3.2" height="1.5"/><rect x="1073.00" y="368.31" width="2" height="1.5"/><rect x="2023.70" y="368.31" width="3.2" height="1.5"/><rect x="2019.90" y="368.31" width="2" height="1.5"/><rect x="1544.80" y="368.31" width="6.4" height="1.5"/><rect x="1540.80" y="368.31" width="2" height="1.5"/><rect x="1553.20" y="368.31" width="2" height="1.5"/><rect x="1068.00" y="383.69" width="3.2" height="1.5"/><rect x="1073.00" y="383.69" width="2" height="1.5"/><rect x="2023.70" y="383.69" width="3.2" height="1.5"/><rect x="2019.90" y="383.69" width="2" height="1.5"/><rect x="1544.80" y="383.69" width="6.4" height="1.5"/><rect x="1540.80" y="383.69" width="2" height="1.5"/><rect x="1553.20" y="383.69" width="2" height="1.5"/><rect x="1068.00" y="399.07" width="3.2" height="1.5"/><rect x="1073.00" y="399.07" width="2" height="1.5"/><rect x="2023.70" y="399.07" width="3.2" height="1.5"/><rect x="2019.90" y="399.07" width="2" height="1.5"/><rect x="1544.80" y="399.07" width="6.4" height="1.5"/><rect x="1540.80" y="399.07" width="2" height="1.5"/><rect x="1553.20" y="399.07" width="2" height="1.5"/><rect x="1068.00" y="414.45" width="3.2" height="1.5"/><rect x="1073.00" y="414.45" width="2" height="1.5"/><rect x="2023.70" y="414.45" width="3.2" height="1.5"/><rect x="2019.90" y="414.45" width="2" height="1.5"/><rect x="1544.80" y="414.45" width="6.4" height="1.5"/><rect x="1540.80" y="414.45" width="2" height="1.5"/><rect x="1553.20" y="414.45" width="2" height="1.5"/><rect x="1068.00" y="429.83" width="3.2" height="1.5"/><rect x="1073.00" y="429.83" width="2" height="1.5"/><rect x="2023.70" y="429.83" width="3.2" height="1.5"/><rect x="2019.90" y="429.83" width="2" height="1.5"/><rect x="1544.80" y="429.83" width="6.4" height="1.5"/><rect x="1540.80" y="429.83" width="2" height="1.5"/><rect x="1553.20" y="429.83" width="2" height="1.5"/><rect x="1068.00" y="445.21" width="3.2" height="1.5"/><rect x="1073.00" y="445.21" width="2" height="1.5"/><rect x="2023.70" y="445.21" width="3.2" height="1.5"/><rect x="2019.90" y="445.21" width="2" height="1.5"/><rect x="1544.80" y="445.21" width="6.4" height="1.5"/><rect x="1540.80" y="445.21" width="2" height="1.5"/><rect x="1553.20" y="445.21" width="2" height="1.5"/><rect x="1068.00" y="460.59" width="3.2" height="1.5"/><rect x="1073.00" y="460.59" width="2" height="1.5"/><rect x="2023.70" y="460.59" width="3.2" height="1.5"/><rect x="2019.90" y="460.59" width="2" height="1.5"/><rect x="1544.80" y="460.59" width="6.4" height="1.5"/><rect x="1540.80" y="460.59" width="2" height="1.5"/><rect x="1553.20" y="460.59" width="2" height="1.5"/><rect x="1068.00" y="475.97" width="3.2" height="1.5"/><rect x="1073.00" y="475.97" width="2" height="1.5"/><rect x="2023.70" y="475.97" width="3.2" height="1.5"/><rect x="2019.90" y="475.97" width="2" height="1.5"/><rect x="1544.80" y="475.97" width="6.4" height="1.5"/><rect x="1540.80" y="475.97" width="2" height="1.5"/><rect x="1553.20" y="475.97" width="2" height="1.5"/><rect x="1068.00" y="491.35" width="3.2" height="1.5"/><rect x="1073.00" y="491.35" width="2" height="1.5"/><rect x="2023.70" y="491.35" width="3.2" height="1.5"/><rect x="2019.90" y="491.35" width="2" height="1.5"/><rect x="1544.80" y="491.35" width="6.4" height="1.5"/><rect x="1540.80" y="491.35" width="2" height="1.5"/><rect x="1553.20" y="491.35" width="2" height="1.5"/><rect x="1068.00" y="506.73" width="3.2" height="1.5"/><rect x="1073.00" y="506.73" width="2" height="1.5"/><rect x="2023.70" y="506.73" width="3.2" height="1.5"/><rect x="2019.90" y="506.73" width="2" height="1.5"/><rect x="1544.80" y="506.73" width="6.4" height="1.5"/><rect x="1540.80" y="506.73" width="2" height="1.5"/><rect x="1553.20" y="506.73" width="2" height="1.5"/><rect x="1068.00" y="522.11" width="3.2" height="1.5"/><rect x="1073.00" y="522.11" width="2" height="1.5"/><rect x="2023.70" y="522.11" width="3.2" height="1.5"/><rect x="2019.90" y="522.11" width="2" height="1.5"/><rect x="1544.80" y="522.11" width="6.4" height="1.5"/><rect x="1540.80" y="522.11" width="2" height="1.5"/><rect x="1553.20" y="522.11" width="2" height="1.5"/><rect x="1068.00" y="537.49" width="3.2" height="1.5"/><rect x="1073.00" y="537.49" width="2" height="1.5"/><rect x="2023.70" y="537.49" width="3.2" height="1.5"/><rect x="2019.90" y="537.49" width="2" height="1.5"/><rect x="1544.80" y="537.49" width="6.4" height="1.5"/><rect x="1540.80" y="537.49" width="2" height="1.5"/><rect x="1553.20" y="537.49" width="2" height="1.5"/><rect x="1068.00" y="552.87" width="3.2" height="1.5"/><rect x="1073.00" y="552.87" width="2" height="1.5"/><rect x="2023.70" y="552.87" width="3.2" height="1.5"/><rect x="2019.90" y="552.87" width="2" height="1.5"/><rect x="1544.80" y="552.87" width="6.4" height="1.5"/><rect x="1540.80" y="552.87" width="2" height="1.5"/><rect x="1553.20" y="552.87" width="2" height="1.5"/><rect x="1068.00" y="568.25" width="3.2" height="1.5"/><rect x="1073.00" y="568.25" width="2" height="1.5"/><rect x="2023.70" y="568.25" width="3.2" height="1.5"/><rect x="2019.90" y="568.25" width="2" height="1.5"/><rect x="1544.80" y="568.25" width="6.4" height="1.5"/><rect x="1540.80" y="568.25" width="2" height="1.5"/><rect x="1553.20" y="568.25" width="2" height="1.5"/><rect x="1068.00" y="583.63" width="3.2" height="1.5"/><rect x="1073.00" y="583.63" width="2" height="1.5"/><rect x="2023.70" y="583.63" width="3.2" height="1.5"/><rect x="2019.90" y="583.63" width="2" height="1.5"/><rect x="1544.80" y="583.63" width="6.4" height="1.5"/><rect x="1540.80" y="583.63" width="2" height="1.5"/><rect x="1553.20" y="583.63" width="2" height="1.5"/><rect x="1068.00" y="599.01" width="3.2" height="1.5"/><rect x="1073.00" y="599.01" width="2" height="1.5"/><rect x="2023.70" y="599.01" width="3.2" height="1.5"/><rect x="2019.90" y="599.01" width="2" height="1.5"/><rect x="1544.80" y="599.01" width="6.4" height="1.5"/><rect x="1540.80" y="599.01" width="2" height="1.5"/><rect x="1553.20" y="599.01" width="2" height="1.5"/><rect x="1068.00" y="614.39" width="3.2" height="1.5"/><rect x="1073.00" y="614.39" width="2" height="1.5"/><rect x="2023.70" y="614.39" width="3.2" height="1.5"/><rect x="2019.90" y="614.39" width="2" height="1.5"/><rect x="1544.80" y="614.39" width="6.4" height="1.5"/><rect x="1540.80" y="614.39" width="2" height="1.5"/><rect x="1553.20" y="614.39" width="2" height="1.5"/><rect x="1068.00" y="629.77" width="3.2" height="1.5"/><rect x="1073.00" y="629.77" width="2" height="1.5"/><rect x="2023.70" y="629.77" width="3.2" height="1.5"/><rect x="2019.90" y="629.77" width="2" height="1.5"/><rect x="1544.80" y="629.77" width="6.4" height="1.5"/><rect x="1540.80" y="629.77" width="2" height="1.5"/><rect x="1553.20" y="629.77" width="2" height="1.5"/></g>
<path d="M1065,650.5 V26.6 H2030.8" fill="none" stroke="#858585" stroke-width="3.6"/>
<path d="M1063.2,649.4 H2029.6 V24.8" fill="none" stroke="#bcbcbc" stroke-width="2.2"/>
<g>
<line x1="1087" y1="88.8" x2="1188" y2="88.8" stroke="#000" stroke-width="3.6"/>
<line x1="1133.5" y1="88.8" x2="1159.8" y2="70.1" stroke="#000" stroke-width="3.2"/><polygon points="1178.5,56.8 1160.0,80.0 1159.8,70.1 1150.5,66.6" fill="#000"/>
<line x1="1267" y1="87" x2="1368" y2="87" stroke="#000" stroke-width="3.6"/>
<line x1="1313.3" y1="87" x2="1339.8" y2="67.2" stroke="#000" stroke-width="3.2"/><polygon points="1358.2,53.4 1340.3,77.0 1339.8,67.2 1330.5,63.9" fill="#000"/>
<line x1="1091.5" y1="595.2" x2="1192" y2="595.2" stroke="#000" stroke-width="3.6"/>
<line x1="1138.7" y1="595.2" x2="1166.2" y2="615.9" stroke="#000" stroke-width="3.5"/><polygon points="1184.6,629.7 1156.9,619.1 1166.2,615.9 1166.7,606.0" fill="#000"/>
<line x1="1285" y1="601.3" x2="1385" y2="601.3" stroke="#000" stroke-width="3.6"/>
<line x1="1332" y1="601.3" x2="1358.8" y2="620.9" stroke="#000" stroke-width="3.5"/><polygon points="1377.4,634.4 1349.5,624.2 1358.8,620.9 1359.2,611.0" fill="#000"/>
<line x1="1542" y1="566" x2="1569.2" y2="585.8" stroke="#000" stroke-width="3.2"/><polygon points="1587.8,599.4 1559.9,589.2 1569.2,585.8 1569.6,576.0" fill="#000"/>
<line x1="1707.4" y1="567.4" x2="1733.2" y2="586.5" stroke="#000" stroke-width="3.2"/><polygon points="1751.7,600.2 1723.9,589.8 1733.2,586.5 1733.7,576.7" fill="#000"/>
<line x1="1592.6" y1="95.6" x2="1592.3" y2="85.8" stroke="#000" stroke-width="2.9"/><polygon points="1591.8,69.1 1598.9,90.4 1592.3,85.8 1586.0,90.8" fill="#000"/>
</g>
<g font-family="Liberation Sans, Arial, sans-serif" font-size="20" fill="#000">
<text x="1180" y="62.1" textLength="67.2" lengthAdjust="spacingAndGlyphs">12.45V</text>
<text x="1359.5" y="59.9" textLength="66.9" lengthAdjust="spacingAndGlyphs">12.45V</text>
<text x="1559.5" y="63.7" textLength="68" lengthAdjust="spacingAndGlyphs">12.42V</text>
<text x="1183.9" y="636.8" textLength="79.9" lengthAdjust="spacingAndGlyphs">-750 mV</text>
<text x="1381" y="636.8" textLength="80.3" lengthAdjust="spacingAndGlyphs">-800 mV</text>
<text x="1736" y="53" textLength="248" lengthAdjust="spacingAndGlyphs">ch1,ch2,ch3: Y-axis 2V/div</text>
<text y="72.8" x="1858.7 1865.4 1874 1881 1893.3 1902.8 1917.7 1922.4 1935.8 1946.9 1959 1969.3 1978 1991.3">x-axis20ns/div</text>
</g>
<text font-family="Liberation Sans, Arial, sans-serif" font-weight="bold" font-size="25" x="1502" y="65.5">V</text>
<text font-family="Liberation Sans, Arial, sans-serif" font-weight="bold" font-size="18" x="1520.3" y="71.6" textLength="22.4" lengthAdjust="spacingAndGlyphs">DC</text>
<rect x="1544" y="53.6" width="12" height="2.5"/><rect x="1544" y="59.5" width="12" height="2.5"/>
<text font-family="Liberation Sans, Arial, sans-serif" font-weight="bold" font-style="italic" font-size="25" x="1590" y="607.9">V</text>
<text font-family="Liberation Sans, Arial, sans-serif" font-weight="bold" font-style="italic" font-size="18" x="1607.3" y="613.8" textLength="30.7" lengthAdjust="spacingAndGlyphs">AC1</text>
<text font-family="Liberation Sans, Arial, sans-serif" font-weight="bold" font-style="italic" font-size="25" x="1752" y="610.6">V</text>
<text font-family="Liberation Sans, Arial, sans-serif" font-weight="bold" font-style="italic" font-size="18" x="1769" y="617" textLength="32" lengthAdjust="spacingAndGlyphs">AC2</text>
<path d="M1437.8,41.2 H1457.2 Q1459.2,41.2 1459.2,43.2 V58.7 L1450.5,62.7 H1444.5 L1435.8,58.7 V43.2 Q1435.8,41.2 1437.8,41.2 Z" fill="#ff7a00"/><path d="M1440.48,44.425000000000004 H1454.52 V47.650000000000006 H1449.84 V59.475 H1445.1599999999999 V47.650000000000006 H1440.48 Z" fill="#fff"/>
<path d="M1535.8,7.1 H1546.8999999999999 Q1548.8999999999999,7.1 1548.8999999999999,9.1 V19.9 L1544.35,23.9 H1538.35 L1533.8,19.9 V9.1 Q1533.8,7.1 1535.8,7.1 Z" fill="#ff7a00"/><path d="M1536.82,9.62 H1545.8799999999999 V12.14 H1542.86 V21.38 H1539.84 V12.14 H1536.82 Z" fill="#fff"/>
<polygon points="1541.2,0.9 1554.8,0.9 1548,6.8" fill="#ff7a00"/>
<polygon points="1537.2,30.1 1559,30.1 1548,38.6" fill="#ff7a00"/>
<text font-family="DejaVu Serif, serif" font-weight="bold" font-size="28.5" x="1026.8 1043.3 1063" y="22.1">Tek</text>
<text font-family="DejaVu Sans, sans-serif" font-weight="bold" font-size="22.5" x="1093 1110 1123.3 1143.8" y="18.9" fill="#000">Stop</text>
<line x1="1203.6" y1="0.5" x2="1203.6" y2="25.5" stroke="#888" stroke-width="1.4"/>
<line x1="1890.8" y1="0.5" x2="1890.8" y2="25.5" stroke="#888" stroke-width="1.4"/>
<line x1="1340.7" y1="12.2" x2="1534" y2="12.2" stroke="#0000a0" stroke-width="1.6"/>
<line x1="1549" y1="12.2" x2="1753.5" y2="12.2" stroke="#0000a0" stroke-width="1.6"/>
<path d="M1531.5,1.6 H1527 V23 H1531.5" fill="none" stroke="#000" stroke-width="1.6"/>
<path d="M1562.5,1.6 H1567 V23 H1562.5" fill="none" stroke="#000" stroke-width="1.6"/>
<path d="M1027.7,558 H1051 L1066.6,570.5 L1051,583 H1027.7 Z" fill="#000099"/>
<path d="M1051.5,559.6 L1064.6,570.3 M1051.5,581.6 L1064.6,570.9" stroke="#fff" stroke-width="1.3" stroke-dasharray="1.3 1.3" opacity="0.85"/>
<path d="M1029,583.8 H1051" stroke="#c000c0" stroke-width="1.2" stroke-dasharray="1.2 2.6" opacity="0.7"/>
<path d="M1038.2,565.2 L1042.2,562 H1046.1 V579.3 H1041.6 V566.4 H1038.2 Z" fill="#fff"/>
<rect x="2003" y="225" width="21.5" height="17.5" fill="#fff"/><polygon points="2004.7,233.6 2015.9,225.3 2015.9,241.8" fill="#000099"/><line x1="2015" y1="233.6" x2="2026.5" y2="233.6" stroke="#000099" stroke-width="1.6"/>
<rect x="1063.2" y="653.1" width="58.8" height="24.1" fill="#000099"/>
<text font-family="DejaVu Sans, sans-serif" stroke-width="0.9" stroke-linejoin="round" font-size="23.3" x="1065.1" y="673" fill="#fff" stroke="#fff" textLength="52" lengthAdjust="spacing">Ch1</text>
<rect x="1125.3" y="652.5" width="187.4" height="25.6" fill="none" stroke="#a8a8a8" stroke-width="1.5"/>
<text font-family="DejaVu Sans, sans-serif" stroke-width="0.9" stroke-linejoin="round" font-size="23.3" x="1160.4" y="673" fill="#000099" stroke="#000099" textLength="94" lengthAdjust="spacing">2.00 V</text>
<text font-family="DejaVu Sans, sans-serif" stroke-width="0.9" stroke-linejoin="round" font-size="23.3" x="1065" y="701.7" fill="#b000b0" stroke="#b000b0" textLength="55" lengthAdjust="spacing">Ch3</text>
<rect x="1125.3" y="681.8" width="187.4" height="25.4" fill="none" stroke="#a8a8a8" stroke-width="1.5"/>
<text font-family="DejaVu Sans, sans-serif" stroke-width="0.9" stroke-linejoin="round" font-size="23.3" x="1160.4" y="701.7" fill="#900090" stroke="#900090" textLength="94" lengthAdjust="spacing">2.00 V</text>
<text font-family="DejaVu Sans, sans-serif" stroke-width="0.9" stroke-linejoin="round" font-size="23.3" x="1316" y="701.7" fill="#00a000" stroke="#00a000" textLength="56" lengthAdjust="spacing">Ch4</text>
<rect x="1377.4" y="681" width="187" height="25" fill="none" stroke="#a8a8a8" stroke-width="1.5"/>
<text font-family="DejaVu Sans, sans-serif" stroke-width="0.9" stroke-linejoin="round" font-size="23.3" x="1412" y="701.7" fill="#00a000" stroke="#00a000" textLength="94" lengthAdjust="spacing">2.00 V</text>
<text font-family="DejaVu Sans, sans-serif" stroke-width="0.9" stroke-linejoin="round" font-size="23.3" x="1569.5" y="673" fill="#000" stroke="#000" textLength="22.4" lengthAdjust="spacing">M</text>
<rect x="1596.7" y="652.8" width="114" height="25" fill="none" stroke="#a8a8a8" stroke-width="1.5"/>
<text font-family="DejaVu Sans, sans-serif" stroke-width="0.9" stroke-linejoin="round" font-size="23.3" x="1604.3" y="673" fill="#000" stroke="#000" textLength="100.4" lengthAdjust="spacing">20.0ns</text>
<text font-family="DejaVu Sans, sans-serif" stroke-width="0.9" stroke-linejoin="round" font-size="23.3" x="1740.7" y="673" fill="#000" stroke="#000" textLength="19" lengthAdjust="spacing">A</text>
<path d="M1763.2,679 V653" fill="none" stroke="#909090" stroke-width="1.5"/><path d="M1763.2,679.3 H2029.6 V651" fill="none" stroke="#b8b8b8" stroke-width="1.5"/>
<text font-family="DejaVu Sans, sans-serif" stroke-width="0.9" stroke-linejoin="round" font-size="23.3" x="1787" y="673" fill="#000099" stroke="#000099" textLength="55" lengthAdjust="spacing">Ch1</text>
<path d="M1867,671.4 H1875.5 L1881.5,658 H1890" fill="none" stroke="#000" stroke-width="3.2"/>
<text font-family="DejaVu Sans, sans-serif" stroke-width="0.9" stroke-linejoin="round" font-size="23.3" x="1934" y="673" fill="#000" stroke="#000" textLength="93" lengthAdjust="spacing">8.68 V</text>
</svg>
</body></html>
